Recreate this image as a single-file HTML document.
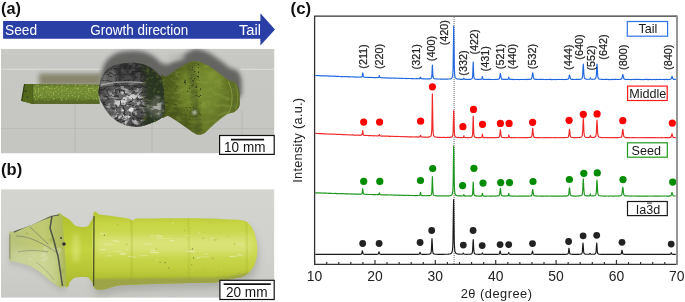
<!DOCTYPE html>
<html><head><meta charset="utf-8"><style>
html,body{margin:0;padding:0;background:#fff;}
body{width:685px;height:302px;overflow:hidden;}
svg{display:block;will-change:transform;}
svg text{font-family:"Liberation Sans",sans-serif;}
</style></head><body>
<svg width="685" height="302" viewBox="0 0 685 302">
<rect width="685" height="302" fill="#fff"/>
<defs>
<filter id="rodtex" x="0" y="0" width="1" height="1" color-interpolation-filters="sRGB"><feTurbulence type="fractalNoise" baseFrequency="0.6" numOctaves="2" seed="51"/><feColorMatrix type="matrix" values="0 0 0 0 0.72  0 0 0 0 0.8  0 0 0 0 0.42  5 0 0 0 -2.6"/></filter>
<radialGradient id="nkm" gradientUnits="userSpaceOnUse" cx="157" cy="107" r="13">
 <stop offset="0" stop-color="#fff"/><stop offset="0.6" stop-color="#999"/><stop offset="1" stop-color="#000"/></radialGradient>
<mask id="nkmask"><rect x="140" y="85" width="35" height="45" fill="url(#nkm)"/></mask>
<filter id="tex" x="0" y="0" width="1" height="1" color-interpolation-filters="sRGB"><feTurbulence type="fractalNoise" baseFrequency="0.12 0.25" numOctaves="3" seed="31"/><feColorMatrix type="matrix" values="0 0 0 0 0.62  0 0 0 0 0.68  0 0 0 0 0.3  3 0 0 0 -1.3"/></filter>
<filter id="spk" x="0" y="0" width="1" height="1" color-interpolation-filters="sRGB"><feTurbulence type="fractalNoise" baseFrequency="0.45" numOctaves="2" seed="41"/><feColorMatrix type="matrix" values="0 0 0 0 0.2  0 0 0 0 0.22  0 0 0 0 0.12  7 0 0 0 -4.4"/></filter>
<radialGradient id="bulbG" gradientUnits="userSpaceOnUse" cx="124" cy="102" r="34">
 <stop offset="0" stop-color="#707070"/><stop offset="0.55" stop-color="#505050"/><stop offset="1" stop-color="#323232"/></radialGradient>
<radialGradient id="hlm" gradientUnits="userSpaceOnUse" cx="128" cy="108" r="26">
 <stop offset="0" stop-color="#fff"/><stop offset="0.55" stop-color="#bbb"/><stop offset="1" stop-color="#333"/></radialGradient>
<mask id="hlmask"><rect x="90" y="55" width="85" height="80" fill="url(#hlm)"/></mask>
<filter id="hl" x="0" y="0" width="1" height="1" color-interpolation-filters="sRGB"><feTurbulence type="fractalNoise" baseFrequency="0.14 0.2" numOctaves="3" seed="5"/><feColorMatrix type="matrix" values="0 0 0 0 0.92  0 0 0 0 0.92  0 0 0 0 0.92  5 0 0 0 -2.3"/></filter>
<filter id="dk" x="0" y="0" width="1" height="1" color-interpolation-filters="sRGB"><feTurbulence type="turbulence" baseFrequency="0.12 0.16" numOctaves="2" seed="17"/><feColorMatrix type="matrix" values="0 0 0 0 0.12  0 0 0 0 0.12  0 0 0 0 0.12  -9 0 0 0 1.5"/></filter>
<filter id="moss" x="0" y="0" width="1" height="1" color-interpolation-filters="sRGB"><feTurbulence type="fractalNoise" baseFrequency="0.3" numOctaves="2" seed="12"/><feColorMatrix type="matrix" values="0 0 0 0 0.3  0 0 0 0 0.36  0 0 0 0 0.15  4 0 0 0 -2.2"/></filter>
<clipPath id="ca"><rect x="1" y="48.7" width="273.5" height="104.8"/></clipPath>
<clipPath id="cb"><rect x="1" y="189.2" width="273.4" height="108.6"/></clipPath>
<filter id="b05" x="-10%" y="-10%" width="120%" height="120%"><feGaussianBlur stdDeviation="0.6"/></filter>
<filter id="b1" x="-20%" y="-20%" width="140%" height="140%"><feGaussianBlur stdDeviation="1"/></filter>
<filter id="b2" x="-30%" y="-30%" width="160%" height="160%"><feGaussianBlur stdDeviation="2"/></filter>
<filter id="b3" x="-40%" y="-40%" width="180%" height="180%"><feGaussianBlur stdDeviation="3.5"/></filter>
<linearGradient id="bgA" x1="0" y1="0" x2="0" y2="1">
 <stop offset="0" stop-color="#cacbc7"/><stop offset="0.1" stop-color="#c7c8c4"/><stop offset="1" stop-color="#c5c6c2"/></linearGradient>
<linearGradient id="rodG" x1="0" y1="0" x2="0" y2="1">
 <stop offset="0" stop-color="#5a6e24"/><stop offset="0.2" stop-color="#768e34"/><stop offset="0.65" stop-color="#6e8630"/><stop offset="0.85" stop-color="#566c20"/><stop offset="1" stop-color="#46561a"/></linearGradient>
<linearGradient id="tailG" x1="0" y1="0" x2="1" y2="0">
 <stop offset="0" stop-color="#46541a"/><stop offset="0.3" stop-color="#5a6a22"/><stop offset="0.6" stop-color="#687a2a"/><stop offset="0.85" stop-color="#647628"/><stop offset="1" stop-color="#52621e"/></linearGradient>
<linearGradient id="bgB" x1="0" y1="0" x2="0" y2="1">
 <stop offset="0" stop-color="#d4d4d1"/><stop offset="0.6" stop-color="#d0d0cd"/><stop offset="1" stop-color="#c8c8c4"/></linearGradient>
<linearGradient id="bodyBG" gradientUnits="userSpaceOnUse" x1="0" y1="215" x2="0" y2="280">
 <stop offset="0" stop-color="#b8c834"/><stop offset="0.12" stop-color="#c6d444"/><stop offset="0.45" stop-color="#d0dc58"/><stop offset="0.8" stop-color="#c2d040"/><stop offset="1" stop-color="#aebc30"/></linearGradient>
<linearGradient id="neckBG" x1="0" y1="0" x2="0" y2="1">
 <stop offset="0" stop-color="#b0c02c"/><stop offset="0.5" stop-color="#c4d440"/><stop offset="1" stop-color="#a8b82a"/></linearGradient>
<linearGradient id="coneBG" x1="0" y1="0" x2="1" y2="0">
 <stop offset="0" stop-color="#b8c27a"/><stop offset="0.6" stop-color="#c0ca72"/><stop offset="1" stop-color="#aab656"/></linearGradient>
</defs><g clip-path="url(#ca)">
<rect x="1" y="48.7" width="273.5" height="104.8" fill="url(#bgA)"/>
<g stroke="#dcdcd8" stroke-width="1.1" opacity="0.9"><line x1="1" y1="69.4" x2="104" y2="69.4"/><line x1="240" y1="69.4" x2="274" y2="69.4"/></g><line x1="1" y1="128.6" x2="274" y2="128.6" stroke="#b4b4b0" stroke-width="0.8" opacity="0.7"/>
<g stroke="#a8a8a4" stroke-width="0.7" opacity="0.6"><line x1="75" y1="104" x2="75" y2="153"/><line x1="152" y1="122" x2="152" y2="153"/><line x1="242" y1="110" x2="242" y2="153"/></g>
<g filter="url(#b2)" fill="#4c4c48" opacity="0.8" transform="translate(2,-12)"><path d="M98.7,95.0 C97.8,91.2 98.7,89.0 99.2,86.0 C99.8,83.0 100.7,79.7 102.0,77.0 C103.3,74.3 105.0,71.9 107.0,70.0 C109.0,68.1 111.5,66.6 114.0,65.5 C116.5,64.4 119.0,64.0 122.0,63.6 C125.0,63.1 128.5,62.7 131.8,62.8 C135.1,62.9 138.8,63.1 142.0,64.0 C145.2,64.9 148.3,66.3 151.0,68.0 C153.7,69.7 156.2,72.0 158.0,74.0 C159.8,76.0 161.0,76.5 162.0,80.0 C163.0,83.5 163.6,89.7 164.0,95.0 C164.4,100.3 165.2,108.0 164.5,112.0 C163.8,116.0 162.4,117.1 160.0,119.0 C157.6,120.9 153.5,122.2 150.0,123.5 C146.5,124.8 142.9,126.5 139.1,126.8 C135.2,127.1 131.0,126.8 126.9,125.6 C122.8,124.4 118.3,122.3 114.6,119.5 C110.9,116.7 107.4,112.6 104.8,108.5 C102.2,104.4 99.6,98.8 98.7,95.0Z"/><path d="M160.0,78.0 C161.0,71.6 163.3,77.8 166.0,76.5 C168.7,75.2 172.7,72.1 176.0,70.0 C179.3,67.9 183.3,65.5 186.0,64.0 C188.7,62.5 190.0,61.6 192.0,61.2 C194.0,60.8 195.7,61.0 198.0,61.5 C200.3,62.0 203.3,63.2 206.0,64.5 C208.7,65.8 211.5,67.8 214.0,69.5 C216.5,71.2 218.7,72.8 221.0,74.5 C223.3,76.2 225.9,78.8 228.0,80.0 C230.1,81.2 231.9,81.0 233.4,81.8 C234.9,82.6 236.0,83.4 237.0,85.0 C238.0,86.6 238.9,89.0 239.3,91.3 C239.7,93.6 239.6,96.5 239.6,99.0 C239.6,101.5 240.1,104.2 239.3,106.3 C238.5,108.4 236.8,110.3 234.7,111.7 C232.6,113.1 229.4,112.9 226.6,114.4 C223.8,116.0 220.8,118.7 218.0,121.0 C215.2,123.3 212.2,126.0 210.0,128.0 C207.8,130.0 206.8,131.9 204.8,133.0 C202.8,134.1 200.3,135.1 198.0,134.8 C195.7,134.5 193.3,132.5 191.0,131.0 C188.7,129.5 186.5,127.8 184.0,126.0 C181.5,124.2 178.7,122.2 176.0,120.5 C173.3,118.8 170.7,116.9 168.0,116.0 C165.3,115.1 161.3,121.3 160.0,115.0 C158.7,108.7 159.0,84.4 160.0,78.0Z"/></g>
<g filter="url(#b2)" fill="#7e7a5e" opacity="0.85"><rect x="39" y="73.5" width="62" height="12"/></g>
<ellipse cx="176" cy="57" rx="9" ry="4" fill="#bcbdb9" opacity="0.8" filter="url(#b2)"/>
<g filter="url(#b05)">
<path d="M24.5,84.0 L99.0,84.6 L99.5,104.0 L33.0,104.0 L21.6,101.0Z" fill="url(#rodG)"/>
<clipPath id="crod"><path d="M24.5,84.0 L99.0,84.6 L99.5,104.0 L33.0,104.0 L21.6,101.0Z"/></clipPath><g clip-path="url(#crod)">
<rect x="20" y="83" width="82" height="22" filter="url(#rodtex)" opacity="0.5"/>
<path d="M30,100.6 L100,101 L100,105 L30,105Z" fill="#5c6a2c" opacity="0.85"/>
</g>
<path d="M24.5,84 L32.5,84.2 L33,104 L21.6,101Z" fill="#52681e"/>
<path d="M24.5,84 L21.6,101" stroke="#2e3a10" stroke-width="1.1"/>
<path d="M32.5,84.2 L33,104" stroke="#46581a" stroke-width="0.8"/>
<ellipse cx="25.5" cy="91" rx="0.8" ry="0.8" fill="#222"/><ellipse cx="27.5" cy="97" rx="0.7" ry="0.7" fill="#333"/>
</g>
<g filter="url(#b05)">
<path d="M160.0,78.0 C161.0,71.6 163.3,77.8 166.0,76.5 C168.7,75.2 172.7,72.1 176.0,70.0 C179.3,67.9 183.3,65.5 186.0,64.0 C188.7,62.5 190.0,61.6 192.0,61.2 C194.0,60.8 195.7,61.0 198.0,61.5 C200.3,62.0 203.3,63.2 206.0,64.5 C208.7,65.8 211.5,67.8 214.0,69.5 C216.5,71.2 218.7,72.8 221.0,74.5 C223.3,76.2 225.9,78.8 228.0,80.0 C230.1,81.2 231.9,81.0 233.4,81.8 C234.9,82.6 236.0,83.4 237.0,85.0 C238.0,86.6 238.9,89.0 239.3,91.3 C239.7,93.6 239.6,96.5 239.6,99.0 C239.6,101.5 240.1,104.2 239.3,106.3 C238.5,108.4 236.8,110.3 234.7,111.7 C232.6,113.1 229.4,112.9 226.6,114.4 C223.8,116.0 220.8,118.7 218.0,121.0 C215.2,123.3 212.2,126.0 210.0,128.0 C207.8,130.0 206.8,131.9 204.8,133.0 C202.8,134.1 200.3,135.1 198.0,134.8 C195.7,134.5 193.3,132.5 191.0,131.0 C188.7,129.5 186.5,127.8 184.0,126.0 C181.5,124.2 178.7,122.2 176.0,120.5 C173.3,118.8 170.7,116.9 168.0,116.0 C165.3,115.1 161.3,121.3 160.0,115.0 C158.7,108.7 159.0,84.4 160.0,78.0Z" fill="url(#tailG)"/>
<clipPath id="ctail"><path d="M160.0,78.0 C161.0,71.6 163.3,77.8 166.0,76.5 C168.7,75.2 172.7,72.1 176.0,70.0 C179.3,67.9 183.3,65.5 186.0,64.0 C188.7,62.5 190.0,61.6 192.0,61.2 C194.0,60.8 195.7,61.0 198.0,61.5 C200.3,62.0 203.3,63.2 206.0,64.5 C208.7,65.8 211.5,67.8 214.0,69.5 C216.5,71.2 218.7,72.8 221.0,74.5 C223.3,76.2 225.9,78.8 228.0,80.0 C230.1,81.2 231.9,81.0 233.4,81.8 C234.9,82.6 236.0,83.4 237.0,85.0 C238.0,86.6 238.9,89.0 239.3,91.3 C239.7,93.6 239.6,96.5 239.6,99.0 C239.6,101.5 240.1,104.2 239.3,106.3 C238.5,108.4 236.8,110.3 234.7,111.7 C232.6,113.1 229.4,112.9 226.6,114.4 C223.8,116.0 220.8,118.7 218.0,121.0 C215.2,123.3 212.2,126.0 210.0,128.0 C207.8,130.0 206.8,131.9 204.8,133.0 C202.8,134.1 200.3,135.1 198.0,134.8 C195.7,134.5 193.3,132.5 191.0,131.0 C188.7,129.5 186.5,127.8 184.0,126.0 C181.5,124.2 178.7,122.2 176.0,120.5 C173.3,118.8 170.7,116.9 168.0,116.0 C165.3,115.1 161.3,121.3 160.0,115.0 C158.7,108.7 159.0,84.4 160.0,78.0Z"/></clipPath>
<g clip-path="url(#ctail)">
<ellipse cx="200" cy="90" rx="22" ry="24" fill="#7a9030" opacity="0.7" filter="url(#b3)"/><ellipse cx="214" cy="76" rx="10" ry="8" fill="#7e9232" opacity="0.6" filter="url(#b3)"/>
<path d="M160,100 C175,110 190,118 206,136 L160,136Z" fill="#3e4a18" opacity="0.5" filter="url(#b3)"/>
<path d="M186,62 C190,80 191,105 196,134 L203,134 C198,105 196,80 196,61Z" fill="#4a5820" opacity="0.55" filter="url(#b1)"/>
<rect x="158" y="58" width="84" height="80" filter="url(#tex)" opacity="0.3"/>
<path d="M184,60 C188,80 190,105 193,120 L201,120 C197,105 197,80 198,58Z" filter="url(#spk)"/>
<path d="M158,60 L180,62 C176,90 178,100 180,110 L158,110Z" filter="url(#spk)" opacity="0.5"/>
<path d="M226,78 C232,90 232,106 226,118 L242,118 L242,78Z" fill="#5e702a" opacity="0.6" filter="url(#b1)"/>
<path d="M228,81 C233.5,92 233.5,104 228,114" stroke="#98aa44" stroke-width="1" fill="none" opacity="0.7"/>
<path d="M235.5,84 C238.5,92 238.5,103 235.5,110" stroke="#98aa44" stroke-width="0.8" fill="none" opacity="0.6"/>
<ellipse cx="194.5" cy="113" rx="4.5" ry="4" fill="#3a4418" opacity="0.6" filter="url(#b1)"/>
<ellipse cx="194.5" cy="112.5" rx="2.4" ry="2.2" fill="#b8bea8" filter="url(#b1)"/>
</g></g>
<g filter="url(#b05)">
<path d="M98.7,95.0 C97.8,91.2 98.7,89.0 99.2,86.0 C99.8,83.0 100.7,79.7 102.0,77.0 C103.3,74.3 105.0,71.9 107.0,70.0 C109.0,68.1 111.5,66.6 114.0,65.5 C116.5,64.4 119.0,64.0 122.0,63.6 C125.0,63.1 128.5,62.7 131.8,62.8 C135.1,62.9 138.8,63.1 142.0,64.0 C145.2,64.9 148.3,66.3 151.0,68.0 C153.7,69.7 156.2,72.0 158.0,74.0 C159.8,76.0 161.0,76.5 162.0,80.0 C163.0,83.5 163.6,89.7 164.0,95.0 C164.4,100.3 165.2,108.0 164.5,112.0 C163.8,116.0 162.4,117.1 160.0,119.0 C157.6,120.9 153.5,122.2 150.0,123.5 C146.5,124.8 142.9,126.5 139.1,126.8 C135.2,127.1 131.0,126.8 126.9,125.6 C122.8,124.4 118.3,122.3 114.6,119.5 C110.9,116.7 107.4,112.6 104.8,108.5 C102.2,104.4 99.6,98.8 98.7,95.0Z" fill="url(#bulbG)"/>
<clipPath id="cbulb"><path d="M98.7,95.0 C97.8,91.2 98.7,89.0 99.2,86.0 C99.8,83.0 100.7,79.7 102.0,77.0 C103.3,74.3 105.0,71.9 107.0,70.0 C109.0,68.1 111.5,66.6 114.0,65.5 C116.5,64.4 119.0,64.0 122.0,63.6 C125.0,63.1 128.5,62.7 131.8,62.8 C135.1,62.9 138.8,63.1 142.0,64.0 C145.2,64.9 148.3,66.3 151.0,68.0 C153.7,69.7 156.2,72.0 158.0,74.0 C159.8,76.0 161.0,76.5 162.0,80.0 C163.0,83.5 163.6,89.7 164.0,95.0 C164.4,100.3 165.2,108.0 164.5,112.0 C163.8,116.0 162.4,117.1 160.0,119.0 C157.6,120.9 153.5,122.2 150.0,123.5 C146.5,124.8 142.9,126.5 139.1,126.8 C135.2,127.1 131.0,126.8 126.9,125.6 C122.8,124.4 118.3,122.3 114.6,119.5 C110.9,116.7 107.4,112.6 104.8,108.5 C102.2,104.4 99.6,98.8 98.7,95.0Z"/></clipPath>
<g clip-path="url(#cbulb)">
<path d="M99,86 C102,78 106,72 112,68 C116,70 118,76 118,84 C112,86 105,87 99,88Z" fill="#8a8a88" opacity="0.85" filter="url(#b1)"/>
<rect x="96" y="60" width="72" height="70" filter="url(#hl)" mask="url(#hlmask)"/>
<rect x="96" y="60" width="72" height="70" filter="url(#dk)" opacity="0.7"/>
<path d="M104,66 C115,62 135,60 150,66 L150,84 C130,82 112,83 100,86Z" fill="#2a2a2a" opacity="0.35" filter="url(#b2)"/>
<path d="M101,85 C112,82 128,81 146,83" stroke="#c0c0c0" stroke-width="1.2" fill="none" opacity="0.7" filter="url(#b05)"/>
<path d="M100,87.5 C112,85.5 128,84.5 146,86.5" stroke="#2a2a2a" stroke-width="1" fill="none" opacity="0.7" filter="url(#b05)"/>
<path d="M141,62 C147,80 148,105 142,130 L170,130 L170,62Z" fill="#2c3420" opacity="0.95" filter="url(#b2)"/>
<path d="M143,62 C149,80 150,105 144,130 L170,130 L170,62Z" filter="url(#moss)"/>
<ellipse cx="156" cy="108" rx="7" ry="10" fill="#8a8a84" opacity="0.45" filter="url(#b2)"/>
<rect x="144" y="88" width="26" height="38" filter="url(#hl)" opacity="0.6" mask="url(#nkmask)"/>
</g></g>
</g>
<g clip-path="url(#cb)">
<rect x="1" y="189.2" width="273.4" height="108.6" fill="url(#bgB)"/>
<g filter="url(#b3)" fill="#a8a8a2" opacity="0.8" transform="translate(1,6)"><path d="M93.2,215.5 C94.0,207.1 97.5,214.7 100.0,214.8 C102.5,214.9 111.7,216.1 115.0,216.5 C118.3,216.9 125.9,218.0 128.0,218.5 C130.1,219.0 132.1,220.5 133.0,220.5 C133.9,220.5 134.5,218.8 136.0,218.6 C137.5,218.4 140.9,218.4 146.0,218.4 C151.1,218.4 172.5,218.2 180.0,218.2 C187.5,218.2 203.0,218.3 210.0,218.5 C217.0,218.7 235.4,219.6 239.6,219.9 C243.8,220.2 244.7,220.8 246.0,221.5 C247.3,222.2 250.0,224.7 251.0,226.0 C252.0,227.3 253.8,231.1 254.5,233.0 C255.2,234.9 256.5,240.0 256.8,242.0 C257.1,244.0 257.4,248.1 257.4,250.0 C257.4,251.9 257.0,256.1 256.6,258.0 C256.2,259.9 254.9,264.3 254.0,266.0 C253.1,267.7 250.3,271.3 249.0,272.5 C247.7,273.7 245.0,275.7 243.0,276.5 C241.0,277.3 235.3,278.3 232.0,279.0 C228.7,279.7 219.9,282.0 215.0,282.5 C210.1,283.0 197.6,282.8 190.0,283.0 C182.4,283.2 158.2,283.7 150.0,284.0 C141.8,284.3 126.6,285.0 120.0,285.3 C113.4,285.6 96.6,294.6 93.5,286.5 C90.4,278.4 92.4,223.9 93.2,215.5Z"/></g>
<g filter="url(#b2)" fill="#b0b0aa" opacity="0.6" transform="translate(0,4)"><path d="M9.3,233.0 C9.7,230.2 10.8,232.3 13.2,231.5 C15.6,230.7 29.4,226.0 33.0,224.5 C36.6,223.0 47.2,217.6 49.7,216.6 C52.2,215.6 56.8,214.7 58.0,214.6 C59.2,214.5 61.4,213.0 62.0,215.5 C62.6,218.0 63.6,234.6 64.0,240.0 C64.4,245.4 65.8,265.4 66.0,270.0 C66.2,274.6 66.6,283.8 66.0,285.5 C65.4,287.2 61.4,287.6 60.0,287.2 C58.6,286.8 54.0,283.5 52.0,282.0 C50.0,280.5 42.2,273.6 40.0,272.0 C37.8,270.4 32.7,267.1 30.0,266.0 C27.3,264.9 15.3,261.9 13.2,261.3 C11.1,260.7 9.7,262.4 9.3,259.6 C8.9,256.8 8.9,235.8 9.3,233.0Z"/></g>
<g filter="url(#b05)">
<path d="M58.0,216.0 C57.8,209.1 62.8,216.1 64.0,216.5 C65.2,216.9 68.9,219.1 70.0,220.0 C71.1,220.9 73.8,224.8 75.0,225.5 C76.2,226.2 80.7,226.9 82.0,227.0 C83.3,227.1 87.0,226.7 88.0,226.0 C89.0,225.3 91.2,220.9 92.0,220.0 C92.8,219.1 95.6,210.5 96.0,217.0 C96.4,223.5 96.4,278.5 96.0,285.0 C95.6,291.5 92.8,282.8 92.0,282.0 C91.2,281.2 89.2,278.0 88.0,277.5 C86.8,277.0 81.4,276.9 80.0,277.0 C78.6,277.1 75.0,277.5 74.0,278.0 C73.0,278.5 70.8,281.2 70.0,282.0 C69.2,282.8 67.2,292.1 66.0,285.5 C64.8,278.9 58.2,222.9 58.0,216.0Z" fill="url(#neckBG)"/>
<ellipse cx="76" cy="248" rx="3.5" ry="15" fill="#e0ea88" opacity="0.55" filter="url(#b2)"/>
<path d="M9.3,233.0 C9.7,230.2 10.8,232.3 13.2,231.5 C15.6,230.7 29.4,226.0 33.0,224.5 C36.6,223.0 47.2,217.6 49.7,216.6 C52.2,215.6 56.8,214.7 58.0,214.6 C59.2,214.5 61.4,213.0 62.0,215.5 C62.6,218.0 63.6,234.6 64.0,240.0 C64.4,245.4 65.8,265.4 66.0,270.0 C66.2,274.6 66.6,283.8 66.0,285.5 C65.4,287.2 61.4,287.6 60.0,287.2 C58.6,286.8 54.0,283.5 52.0,282.0 C50.0,280.5 42.2,273.6 40.0,272.0 C37.8,270.4 32.7,267.1 30.0,266.0 C27.3,264.9 15.3,261.9 13.2,261.3 C11.1,260.7 9.7,262.4 9.3,259.6 C8.9,256.8 8.9,235.8 9.3,233.0Z" fill="url(#coneBG)"/>
<clipPath id="ccone"><path d="M9.3,233.0 C9.7,230.2 10.8,232.3 13.2,231.5 C15.6,230.7 29.4,226.0 33.0,224.5 C36.6,223.0 47.2,217.6 49.7,216.6 C52.2,215.6 56.8,214.7 58.0,214.6 C59.2,214.5 61.4,213.0 62.0,215.5 C62.6,218.0 63.6,234.6 64.0,240.0 C64.4,245.4 65.8,265.4 66.0,270.0 C66.2,274.6 66.6,283.8 66.0,285.5 C65.4,287.2 61.4,287.6 60.0,287.2 C58.6,286.8 54.0,283.5 52.0,282.0 C50.0,280.5 42.2,273.6 40.0,272.0 C37.8,270.4 32.7,267.1 30.0,266.0 C27.3,264.9 15.3,261.9 13.2,261.3 C11.1,260.7 9.7,262.4 9.3,259.6 C8.9,256.8 8.9,235.8 9.3,233.0Z"/></clipPath>
<g clip-path="url(#ccone)">
<ellipse cx="34.4" cy="254.9" rx="3.8" ry="2.6" transform="rotate(1 34.4 254.9)" fill="#c4cc88" opacity="0.36"/><ellipse cx="53.4" cy="249.4" rx="3.0" ry="1.6" transform="rotate(-4 53.4 249.4)" fill="#d4dca8" opacity="0.33"/><ellipse cx="53.7" cy="263.8" rx="1.6" ry="1.6" transform="rotate(37 53.7 263.8)" fill="#c4cc88" opacity="0.52"/><ellipse cx="45.1" cy="259.1" rx="3.6" ry="1.6" transform="rotate(-37 45.1 259.1)" fill="#d4dca8" opacity="0.48"/><ellipse cx="52.0" cy="239.5" rx="3.0" ry="1.5" transform="rotate(-21 52.0 239.5)" fill="#9aa850" opacity="0.45"/><ellipse cx="45.8" cy="248.2" rx="2.2" ry="2.2" transform="rotate(40 45.8 248.2)" fill="#d4dca8" opacity="0.51"/><ellipse cx="27.0" cy="233.2" rx="2.2" ry="1.0" transform="rotate(21 27.0 233.2)" fill="#9aa850" opacity="0.33"/><ellipse cx="25.7" cy="222.4" rx="1.5" ry="1.3" transform="rotate(-23 25.7 222.4)" fill="#d4dca8" opacity="0.44"/><ellipse cx="62.9" cy="244.2" rx="1.7" ry="1.3" transform="rotate(22 62.9 244.2)" fill="#9aa850" opacity="0.40"/><ellipse cx="26.8" cy="219.0" rx="2.5" ry="2.4" transform="rotate(-29 26.8 219.0)" fill="#c4cc88" opacity="0.33"/><ellipse cx="13.2" cy="270.6" rx="1.9" ry="1.4" transform="rotate(-4 13.2 270.6)" fill="#d4dca8" opacity="0.60"/><ellipse cx="51.6" cy="245.7" rx="2.5" ry="1.6" transform="rotate(39 51.6 245.7)" fill="#d4dca8" opacity="0.38"/><ellipse cx="62.4" cy="271.0" rx="2.3" ry="2.1" transform="rotate(-23 62.4 271.0)" fill="#9aa850" opacity="0.60"/><ellipse cx="42.5" cy="256.1" rx="1.6" ry="0.8" transform="rotate(-5 42.5 256.1)" fill="#d4dca8" opacity="0.53"/><ellipse cx="27.8" cy="237.6" rx="1.7" ry="0.8" transform="rotate(7 27.8 237.6)" fill="#d4dca8" opacity="0.30"/><ellipse cx="29.9" cy="259.1" rx="1.8" ry="1.4" transform="rotate(27 29.9 259.1)" fill="#d4dca8" opacity="0.56"/><ellipse cx="19.9" cy="228.2" rx="3.8" ry="3.4" transform="rotate(-20 19.9 228.2)" fill="#d4dca8" opacity="0.35"/><ellipse cx="44.0" cy="254.6" rx="3.2" ry="2.0" transform="rotate(-1 44.0 254.6)" fill="#d4dca8" opacity="0.43"/><ellipse cx="15.6" cy="220.6" rx="3.9" ry="2.1" transform="rotate(16 15.6 220.6)" fill="#9aa850" opacity="0.43"/><ellipse cx="58.9" cy="250.4" rx="2.8" ry="2.7" transform="rotate(38 58.9 250.4)" fill="#d4dca8" opacity="0.37"/><ellipse cx="40.2" cy="274.3" rx="3.0" ry="1.7" transform="rotate(33 40.2 274.3)" fill="#d4dca8" opacity="0.52"/><ellipse cx="13.7" cy="245.2" rx="2.1" ry="0.9" transform="rotate(-17 13.7 245.2)" fill="#c4cc88" opacity="0.47"/>
<g fill="none" stroke="#70746a" stroke-width="0.8" opacity="0.8" filter="url(#b05)">
<path d="M16,236 C26,236 36,240 46,246 C50,248 53,250 56,252"/>
<path d="M30,227 C36,233 42,238 48,244"/>
<path d="M18,252 C28,250 38,250 48,252"/>
<path d="M36,262 C42,266 48,272 54,280"/>
</g>
<rect x="10" y="250" width="50" height="38" fill="#e4ead0" opacity="0.35" filter="url(#b3)"/>
<path d="M14,232 C28,226 42,219 52,216 C55,215 57,214.8 59,215" stroke="#5c6054" stroke-width="1.4" fill="none" filter="url(#b05)"/>
<path d="M52,216 L50,228 L54,241 L56,249 L58,256 L59.5,266 L61,276 L62.5,286" stroke="#4e5248" stroke-width="1.5" fill="none" stroke-linejoin="round" filter="url(#b05)"/>
<path d="M9.8,234 L9.8,259" stroke="#8c9070" stroke-width="1.1" fill="none"/>
</g>
<ellipse cx="64" cy="244" rx="1.8" ry="1.8" fill="#303030"/>
<ellipse cx="61" cy="238" rx="1" ry="1" fill="#404040"/>
<path d="M93.2,215.5 C94.0,207.1 97.5,214.7 100.0,214.8 C102.5,214.9 111.7,216.1 115.0,216.5 C118.3,216.9 125.9,218.0 128.0,218.5 C130.1,219.0 132.1,220.5 133.0,220.5 C133.9,220.5 134.5,218.8 136.0,218.6 C137.5,218.4 140.9,218.4 146.0,218.4 C151.1,218.4 172.5,218.2 180.0,218.2 C187.5,218.2 203.0,218.3 210.0,218.5 C217.0,218.7 235.4,219.6 239.6,219.9 C243.8,220.2 244.7,220.8 246.0,221.5 C247.3,222.2 250.0,224.7 251.0,226.0 C252.0,227.3 253.8,231.1 254.5,233.0 C255.2,234.9 256.5,240.0 256.8,242.0 C257.1,244.0 257.4,248.1 257.4,250.0 C257.4,251.9 257.0,256.1 256.6,258.0 C256.2,259.9 254.9,264.3 254.0,266.0 C253.1,267.7 250.3,271.3 249.0,272.5 C247.7,273.7 245.0,275.7 243.0,276.5 C241.0,277.3 235.3,278.3 232.0,279.0 C228.7,279.7 219.9,282.0 215.0,282.5 C210.1,283.0 197.6,282.8 190.0,283.0 C182.4,283.2 158.2,283.7 150.0,284.0 C141.8,284.3 126.6,285.0 120.0,285.3 C113.4,285.6 96.6,294.6 93.5,286.5 C90.4,278.4 92.4,223.9 93.2,215.5Z" fill="url(#bodyBG)"/>
<clipPath id="cbody"><path d="M93.2,215.5 C94.0,207.1 97.5,214.7 100.0,214.8 C102.5,214.9 111.7,216.1 115.0,216.5 C118.3,216.9 125.9,218.0 128.0,218.5 C130.1,219.0 132.1,220.5 133.0,220.5 C133.9,220.5 134.5,218.8 136.0,218.6 C137.5,218.4 140.9,218.4 146.0,218.4 C151.1,218.4 172.5,218.2 180.0,218.2 C187.5,218.2 203.0,218.3 210.0,218.5 C217.0,218.7 235.4,219.6 239.6,219.9 C243.8,220.2 244.7,220.8 246.0,221.5 C247.3,222.2 250.0,224.7 251.0,226.0 C252.0,227.3 253.8,231.1 254.5,233.0 C255.2,234.9 256.5,240.0 256.8,242.0 C257.1,244.0 257.4,248.1 257.4,250.0 C257.4,251.9 257.0,256.1 256.6,258.0 C256.2,259.9 254.9,264.3 254.0,266.0 C253.1,267.7 250.3,271.3 249.0,272.5 C247.7,273.7 245.0,275.7 243.0,276.5 C241.0,277.3 235.3,278.3 232.0,279.0 C228.7,279.7 219.9,282.0 215.0,282.5 C210.1,283.0 197.6,282.8 190.0,283.0 C182.4,283.2 158.2,283.7 150.0,284.0 C141.8,284.3 126.6,285.0 120.0,285.3 C113.4,285.6 96.6,294.6 93.5,286.5 C90.4,278.4 92.4,223.9 93.2,215.5Z"/></clipPath>
<g clip-path="url(#cbody)">
<path d="M90,279 C120,278.5 160,278 200,277.8 C220,277.8 236,276 246,273 L260,273 L260,292 L90,292Z" fill="#9ca446" filter="url(#b1)"/>
<rect x="96" y="236" width="156" height="18" fill="#e2ea94" opacity="0.5" filter="url(#b3)"/>
<path d="M131,217 C133,240 133,260 131,282" stroke="#9cae22" stroke-width="1.6" fill="none" opacity="0.5" filter="url(#b1)"/>
<path d="M188,217 C190,240 190,260 188,282" stroke="#9cae22" stroke-width="1.6" fill="none" opacity="0.35" filter="url(#b1)"/>
<path d="M246,217 C248,240 248,260 246,282" stroke="#9cae22" stroke-width="1.6" fill="none" opacity="0.4" filter="url(#b1)"/>
<path d="M187.2,251.3 l7.8,0.5" stroke="#eef2c8" stroke-width="1.1" opacity="0.67" stroke-linecap="round"/>
<path d="M104.1,244.1 l8.7,0.2" stroke="#eef2c8" stroke-width="1.2" opacity="0.39" stroke-linecap="round"/>
<path d="M165.7,238.4 l6.3,0.1" stroke="#eef2c8" stroke-width="0.6" opacity="0.43" stroke-linecap="round"/>
<path d="M139.1,255.8 l7.6,-0.4" stroke="#eef2c8" stroke-width="1.2" opacity="0.40" stroke-linecap="round"/>
<path d="M186.4,235.3 l3.0,0.4" stroke="#eef2c8" stroke-width="0.7" opacity="0.43" stroke-linecap="round"/>
<path d="M237.5,254.7 l4.7,0.6" stroke="#eef2c8" stroke-width="1.0" opacity="0.59" stroke-linecap="round"/>
<path d="M128.7,256.5 l7.1,0.6" stroke="#eef2c8" stroke-width="1.2" opacity="0.45" stroke-linecap="round"/>
<path d="M150.6,236.3 l3.9,-0.5" stroke="#eef2c8" stroke-width="0.8" opacity="0.56" stroke-linecap="round"/>
<path d="M100.5,249.6 l5.0,-0.2" stroke="#eef2c8" stroke-width="1.2" opacity="0.52" stroke-linecap="round"/>
<path d="M144.2,244.5 l7.2,-0.5" stroke="#eef2c8" stroke-width="1.3" opacity="0.36" stroke-linecap="round"/>
<path d="M205.0,254.0 l3.1,0.3" stroke="#eef2c8" stroke-width="0.9" opacity="0.55" stroke-linecap="round"/>
<path d="M101.3,233.2 l4.1,0.5" stroke="#eef2c8" stroke-width="0.7" opacity="0.61" stroke-linecap="round"/>
<path d="M230.2,256.5 l5.1,-0.2" stroke="#eef2c8" stroke-width="1.0" opacity="0.62" stroke-linecap="round"/>
<path d="M115.1,251.5 l7.8,0.4" stroke="#eef2c8" stroke-width="0.6" opacity="0.68" stroke-linecap="round"/>
<path d="M112.8,240.9 l6.7,0.5" stroke="#eef2c8" stroke-width="0.8" opacity="0.67" stroke-linecap="round"/>
<path d="M176.3,240.1 l4.9,-0.4" stroke="#eef2c8" stroke-width="0.7" opacity="0.40" stroke-linecap="round"/>
<path d="M196.5,257.9 l4.0,-0.5" stroke="#eef2c8" stroke-width="1.3" opacity="0.54" stroke-linecap="round"/>
<path d="M156.8,238.2 l6.6,0.4" stroke="#eef2c8" stroke-width="0.9" opacity="0.50" stroke-linecap="round"/>
<path d="M107.8,255.8 l3.2,-0.0" stroke="#eef2c8" stroke-width="1.2" opacity="0.40" stroke-linecap="round"/>
<path d="M202.4,256.7 l6.8,0.3" stroke="#eef2c8" stroke-width="0.7" opacity="0.50" stroke-linecap="round"/>
<path d="M120.9,254.0 l4.8,-0.1" stroke="#eef2c8" stroke-width="1.3" opacity="0.65" stroke-linecap="round"/>
<path d="M236.6,243.8 l5.9,0.3" stroke="#eef2c8" stroke-width="0.9" opacity="0.45" stroke-linecap="round"/>
<path d="M156.5,235.8 l5.3,0.6" stroke="#eef2c8" stroke-width="1.3" opacity="0.57" stroke-linecap="round"/>
<path d="M169.9,240.8 l3.5,-0.3" stroke="#eef2c8" stroke-width="1.1" opacity="0.65" stroke-linecap="round"/>
<path d="M150.6,252.4 l7.6,0.2" stroke="#eef2c8" stroke-width="1.1" opacity="0.62" stroke-linecap="round"/>
<path d="M150.9,250.3 l4.7,-0.0" stroke="#eef2c8" stroke-width="1.1" opacity="0.59" stroke-linecap="round"/>
<ellipse cx="116.1" cy="240.8" rx="1.1" ry="1.1" transform="rotate(13 116.1 240.8)" fill="#eef2c0" opacity="0.48"/><ellipse cx="242.8" cy="246.7" rx="0.8" ry="0.4" transform="rotate(-37 242.8 246.7)" fill="#eef2c0" opacity="0.44"/><ellipse cx="211.9" cy="238.6" rx="1.2" ry="0.5" transform="rotate(4 211.9 238.6)" fill="#eef2c0" opacity="0.57"/><ellipse cx="212.9" cy="258.6" rx="1.1" ry="1.0" transform="rotate(-12 212.9 258.6)" fill="#a8b030" opacity="0.57"/><ellipse cx="234.4" cy="243.7" rx="1.1" ry="1.0" transform="rotate(6 234.4 243.7)" fill="#a8b030" opacity="0.41"/><ellipse cx="97.0" cy="225.8" rx="0.6" ry="0.3" transform="rotate(-19 97.0 225.8)" fill="#a8b030" opacity="0.52"/><ellipse cx="157.1" cy="260.2" rx="0.9" ry="0.6" transform="rotate(27 157.1 260.2)" fill="#eef2c0" opacity="0.46"/><ellipse cx="177.3" cy="238.1" rx="0.6" ry="0.2" transform="rotate(37 177.3 238.1)" fill="#eef2c0" opacity="0.45"/><ellipse cx="193.3" cy="269.9" rx="0.7" ry="0.3" transform="rotate(-16 193.3 269.9)" fill="#eef2c0" opacity="0.46"/><ellipse cx="215.6" cy="239.8" rx="1.2" ry="0.8" transform="rotate(-21 215.6 239.8)" fill="#a8b030" opacity="0.50"/><ellipse cx="126.8" cy="244.4" rx="1.1" ry="1.0" transform="rotate(30 126.8 244.4)" fill="#a8b030" opacity="0.37"/><ellipse cx="242.3" cy="232.9" rx="0.6" ry="0.4" transform="rotate(32 242.3 232.9)" fill="#eef2c0" opacity="0.51"/><ellipse cx="247.0" cy="236.4" rx="0.6" ry="0.4" transform="rotate(-18 247.0 236.4)" fill="#eef2c0" opacity="0.55"/><ellipse cx="156.2" cy="249.0" rx="1.0" ry="0.8" transform="rotate(27 156.2 249.0)" fill="#a8b030" opacity="0.40"/><ellipse cx="227.6" cy="236.5" rx="0.9" ry="0.7" transform="rotate(-18 227.6 236.5)" fill="#a8b030" opacity="0.39"/><ellipse cx="221.6" cy="223.0" rx="0.6" ry="0.4" transform="rotate(-38 221.6 223.0)" fill="#a8b030" opacity="0.37"/><ellipse cx="117.5" cy="224.4" rx="0.9" ry="0.6" transform="rotate(10 117.5 224.4)" fill="#a8b030" opacity="0.59"/><ellipse cx="204.5" cy="232.4" rx="0.8" ry="0.4" transform="rotate(-39 204.5 232.4)" fill="#a8b030" opacity="0.46"/><ellipse cx="100.8" cy="233.8" rx="1.0" ry="0.8" transform="rotate(36 100.8 233.8)" fill="#eef2c0" opacity="0.42"/><ellipse cx="221.7" cy="269.1" rx="0.6" ry="0.5" transform="rotate(18 221.7 269.1)" fill="#eef2c0" opacity="0.44"/><ellipse cx="126.5" cy="268.1" rx="0.5" ry="0.4" transform="rotate(12 126.5 268.1)" fill="#a8b030" opacity="0.44"/><ellipse cx="199.2" cy="232.7" rx="1.0" ry="0.9" transform="rotate(11 199.2 232.7)" fill="#eef2c0" opacity="0.36"/><ellipse cx="239.0" cy="273.0" rx="1.2" ry="0.9" transform="rotate(23 239.0 273.0)" fill="#a8b030" opacity="0.38"/><ellipse cx="209.9" cy="222.8" rx="0.9" ry="0.4" transform="rotate(-13 209.9 222.8)" fill="#a8b030" opacity="0.53"/><ellipse cx="173.0" cy="223.5" rx="1.1" ry="0.5" transform="rotate(24 173.0 223.5)" fill="#eef2c0" opacity="0.46"/><ellipse cx="204.9" cy="269.6" rx="0.8" ry="0.8" transform="rotate(32 204.9 269.6)" fill="#a8b030" opacity="0.58"/><ellipse cx="173.8" cy="271.4" rx="0.6" ry="0.3" transform="rotate(2 173.8 271.4)" fill="#a8b030" opacity="0.55"/><ellipse cx="184.8" cy="230.5" rx="0.9" ry="0.8" transform="rotate(-19 184.8 230.5)" fill="#a8b030" opacity="0.59"/><ellipse cx="234.2" cy="253.7" rx="0.7" ry="0.3" transform="rotate(4 234.2 253.7)" fill="#a8b030" opacity="0.47"/><ellipse cx="127.2" cy="249.9" rx="0.9" ry="0.7" transform="rotate(-38 127.2 249.9)" fill="#eef2c0" opacity="0.45"/>
<ellipse cx="160.1" cy="262.1" rx="0.6" ry="0.4" transform="rotate(15 160.1 262.1)" fill="#505028" opacity="0.88"/><ellipse cx="168.8" cy="268.0" rx="0.6" ry="0.4" transform="rotate(-20 168.8 268.0)" fill="#505028" opacity="0.64"/><ellipse cx="165.1" cy="262.8" rx="0.7" ry="0.5" transform="rotate(-15 165.1 262.8)" fill="#505028" opacity="0.73"/><ellipse cx="104.4" cy="235.0" rx="0.6" ry="0.6" transform="rotate(-37 104.4 235.0)" fill="#505028" opacity="0.67"/><ellipse cx="203.1" cy="238.1" rx="0.5" ry="0.4" transform="rotate(-32 203.1 238.1)" fill="#505028" opacity="0.86"/><ellipse cx="193.5" cy="257.9" rx="0.6" ry="0.6" transform="rotate(-38 193.5 257.9)" fill="#505028" opacity="0.85"/><ellipse cx="192.4" cy="248.9" rx="0.7" ry="0.5" transform="rotate(-23 192.4 248.9)" fill="#505028" opacity="0.86"/><ellipse cx="191.8" cy="264.8" rx="0.5" ry="0.4" transform="rotate(25 191.8 264.8)" fill="#505028" opacity="0.69"/>
<path d="M94,216 L93.6,286" stroke="#4a5028" stroke-width="1.3"/>
</g>
</g>
</g>

<g font-family="Liberation Sans, sans-serif" font-size="13.9" fill="#111">
<rect x="219.6" y="135.5" width="54.6" height="18.9" fill="#fff" stroke="#111" stroke-width="1.2"/>
<line x1="230.9" y1="139.7" x2="264.1" y2="139.7" stroke="#111" stroke-width="1.7"/>
<text x="224.1" y="151.6" textLength="41.3" lengthAdjust="spacingAndGlyphs">10 mm</text>
<rect x="219.9" y="280.3" width="54.3" height="19.2" fill="#fff" stroke="#111" stroke-width="1.2"/>
<line x1="223.6" y1="284.1" x2="270.8" y2="284.1" stroke="#111" stroke-width="1.7"/>
<text x="225.9" y="297.3" textLength="41.6" lengthAdjust="spacingAndGlyphs">20 mm</text>
</g>


<g font-family="Liberation Sans, sans-serif">
<text x="1.0" y="13.9" font-size="16.8" font-weight="bold" fill="#111" textLength="19.9" lengthAdjust="spacingAndGlyphs">(a)</text>
<path d="M3.1,21.1 H260.4 V13.3 L275,29.6 L260.4,45.6 V38.8 H3.1 Z" fill="#2a3fa6"/>
<g fill="#fff" font-size="14">
<text x="5.05" y="34.7" textLength="32.1" lengthAdjust="spacingAndGlyphs">Seed</text>
<text x="90.3" y="34.7" textLength="98" lengthAdjust="spacingAndGlyphs">Growth direction</text>
<text x="239.0" y="34.7" textLength="22" lengthAdjust="spacingAndGlyphs">Tail</text>
</g>
<text x="1.0" y="175.0" font-size="16.8" font-weight="bold" fill="#111" textLength="21.2" lengthAdjust="spacingAndGlyphs">(b)</text>
</g>


<g font-family="Liberation Sans, sans-serif">
<text x="290.6" y="13.9" font-size="16.8" font-weight="bold" fill="#111" textLength="20.6" lengthAdjust="spacingAndGlyphs">(c)</text>
<line x1="454.1" y1="17" x2="454.1" y2="264" stroke="#6a6a6a" stroke-width="1" stroke-dasharray="1,1"/>
<g fill="none" stroke-width="1.15" stroke-linejoin="round">
<path d="M315.30,75.45 L315.80,75.54 L316.30,75.52 L316.80,75.60 L317.30,75.62 L317.80,75.51 L318.30,75.51 L318.80,75.73 L319.30,75.61 L319.80,75.63 L320.30,75.83 L320.80,75.72 L321.30,75.83 L321.80,75.76 L322.30,75.82 L322.80,75.72 L323.30,75.86 L323.80,75.93 L324.30,75.87 L324.80,75.94 L325.30,75.94 L325.80,75.82 L326.30,76.00 L326.80,75.98 L327.30,75.93 L327.80,75.89 L328.30,76.11 L328.80,76.03 L329.30,76.11 L329.80,76.17 L330.30,76.14 L330.80,76.21 L331.30,76.11 L331.80,76.22 L332.30,76.15 L332.80,76.29 L333.30,76.30 L333.80,76.13 L334.30,76.15 L334.80,76.19 L335.30,76.39 L335.80,76.28 L336.30,76.35 L336.80,76.29 L337.30,76.35 L337.80,76.34 L338.30,76.35 L338.80,76.43 L339.30,76.45 L339.80,76.54 L340.30,76.50 L340.80,76.58 L341.30,76.58 L341.80,76.63 L342.30,76.57 L342.80,76.47 L343.30,76.66 L343.80,76.70 L344.30,76.70 L344.80,76.64 L345.30,76.69 L345.80,76.59 L346.30,76.75 L346.80,76.71 L347.30,76.66 L347.80,76.62 L348.30,76.83 L348.80,76.88 L349.30,76.68 L349.80,76.87 L350.30,76.79 L350.80,76.75 L351.30,76.80 L351.80,76.93 L352.30,76.97 L352.80,76.79 L353.30,76.94 L353.80,76.82 L354.30,77.00 L354.80,76.92 L355.30,77.07 L355.80,77.11 L356.30,77.01 L356.80,77.14 L357.30,76.99 L357.80,76.95 L358.30,77.09 L358.80,76.97 L359.30,77.02 L359.80,77.07 L360.30,77.12 L360.80,77.00 L361.30,76.92 L361.80,76.96 L362.10,76.42 L362.30,75.61 L362.40,74.78 L362.70,72.77 L362.80,73.07 L363.00,74.71 L363.30,76.54 L363.80,77.06 L364.30,77.17 L364.80,77.25 L365.30,77.37 L365.80,77.29 L366.30,77.30 L366.80,77.39 L367.30,77.30 L367.80,77.33 L368.30,77.51 L368.80,77.42 L369.30,77.44 L369.80,77.33 L370.30,77.44 L370.80,77.50 L371.30,77.38 L371.80,77.54 L372.30,77.56 L372.80,77.43 L373.30,77.58 L373.80,77.56 L374.30,77.63 L374.80,77.56 L375.30,77.66 L375.80,77.68 L376.30,77.52 L376.80,77.54 L377.30,77.69 L377.80,77.75 L378.30,77.54 L378.80,77.35 L379.10,76.53 L379.30,75.69 L379.40,75.56 L379.70,76.48 L379.80,76.89 L380.00,77.42 L380.30,77.56 L380.80,77.68 L381.30,77.82 L381.80,77.67 L382.30,77.82 L382.80,77.88 L383.30,77.80 L383.80,77.79 L384.30,77.95 L384.80,77.83 L385.30,77.83 L385.80,77.91 L386.30,77.98 L386.80,77.86 L387.30,77.92 L387.80,77.94 L388.30,78.07 L388.80,77.99 L389.30,78.11 L389.80,77.96 L390.30,78.01 L390.80,78.10 L391.30,78.17 L391.80,78.08 L392.30,78.04 L392.80,78.03 L393.30,78.14 L393.80,78.07 L394.30,78.23 L394.80,78.25 L395.30,78.11 L395.80,78.14 L396.30,78.28 L396.80,78.26 L397.30,78.31 L397.80,78.21 L398.30,78.17 L398.80,78.23 L399.30,78.36 L399.80,78.25 L400.30,78.28 L400.80,78.31 L401.30,78.32 L401.80,78.33 L402.30,78.46 L402.80,78.29 L403.30,78.27 L403.80,78.51 L404.30,78.50 L404.80,78.54 L405.30,78.42 L405.80,78.56 L406.30,78.56 L406.80,78.41 L407.30,78.54 L407.80,78.58 L408.30,78.55 L408.80,78.52 L409.30,78.48 L409.80,78.50 L410.30,78.49 L410.80,78.46 L411.30,78.60 L411.80,78.54 L412.30,78.67 L412.80,78.50 L413.30,78.72 L413.80,78.68 L414.30,78.74 L414.80,78.75 L415.30,78.76 L415.80,78.69 L416.30,78.56 L416.80,78.75 L417.30,78.62 L417.80,78.65 L418.30,78.74 L418.80,78.71 L419.30,78.66 L419.80,78.68 L419.90,78.52 L420.20,77.82 L420.30,77.48 L420.50,77.27 L420.80,77.87 L421.10,78.59 L421.30,78.61 L421.80,78.66 L422.30,78.78 L422.80,78.87 L423.30,78.73 L423.80,78.89 L424.30,78.93 L424.80,78.92 L425.30,78.93 L425.80,78.74 L426.30,78.89 L426.80,78.96 L427.30,78.76 L427.80,78.82 L428.30,78.81 L428.80,78.87 L429.30,78.82 L429.80,78.80 L430.30,78.81 L430.80,78.48 L431.30,78.15 L431.80,76.55 L432.10,70.90 L432.30,65.77 L432.40,65.10 L432.70,71.09 L432.80,73.48 L433.00,76.67 L433.30,77.95 L433.80,78.50 L434.30,78.72 L434.80,78.90 L435.30,78.95 L435.80,78.94 L436.30,78.92 L436.80,78.98 L437.30,78.95 L437.80,79.07 L438.30,79.12 L438.80,79.05 L439.30,78.99 L439.80,79.02 L440.30,79.08 L440.80,79.14 L441.30,79.19 L441.80,79.10 L442.30,79.20 L442.80,79.17 L443.30,79.13 L443.80,79.11 L444.30,79.15 L444.80,79.20 L445.30,79.13 L445.80,79.19 L446.30,79.13 L446.80,79.08 L447.30,79.14 L447.80,79.16 L448.30,78.99 L448.80,79.05 L449.30,79.00 L449.80,79.05 L450.30,78.97 L450.80,78.69 L451.30,78.57 L451.80,78.10 L452.30,77.05 L452.80,74.61 L453.10,67.85 L453.30,55.07 L453.40,45.66 L453.70,26.08 L453.80,28.82 L454.00,45.67 L454.30,68.01 L454.80,76.05 L455.30,77.51 L455.80,78.31 L456.30,78.53 L456.80,78.77 L457.30,79.06 L457.80,78.97 L458.30,79.05 L458.80,79.10 L459.30,79.32 L459.80,79.18 L460.30,79.17 L460.80,79.38 L461.30,79.22 L461.80,79.40 L462.30,79.36 L462.80,79.38 L463.30,79.28 L463.60,78.74 L463.80,78.38 L463.90,78.12 L464.20,78.79 L464.30,78.94 L464.50,79.24 L464.80,79.21 L465.30,79.41 L465.80,79.48 L466.30,79.28 L466.80,79.35 L467.30,79.41 L467.80,79.47 L468.30,79.33 L468.80,79.30 L469.30,79.31 L469.80,79.37 L470.30,79.37 L470.80,79.22 L471.30,79.09 L471.80,78.84 L472.30,78.15 L472.60,76.50 L472.80,72.55 L472.90,69.43 L473.20,61.99 L473.30,62.97 L473.50,69.49 L473.80,76.45 L474.30,78.61 L474.80,79.07 L475.30,79.23 L475.80,79.29 L476.30,79.34 L476.80,79.41 L477.30,79.49 L477.80,79.33 L478.30,79.33 L478.80,79.49 L479.30,79.53 L479.80,79.43 L480.30,79.40 L480.80,79.44 L481.30,79.24 L481.80,78.93 L482.10,77.74 L482.30,76.78 L482.40,76.53 L482.70,77.75 L482.80,78.39 L483.00,79.10 L483.30,79.21 L483.80,79.43 L484.30,79.40 L484.80,79.53 L485.30,79.47 L485.80,79.40 L486.30,79.40 L486.80,79.35 L487.30,79.47 L487.80,79.44 L488.30,79.39 L488.80,79.44 L489.30,79.43 L489.80,79.54 L490.30,79.39 L490.80,79.59 L491.30,79.47 L491.80,79.49 L492.30,79.46 L492.80,79.55 L493.30,79.54 L493.80,79.47 L494.30,79.45 L494.80,79.50 L495.30,79.53 L495.80,79.41 L496.30,79.47 L496.80,79.51 L497.30,79.36 L497.80,79.26 L498.30,79.18 L498.80,79.16 L499.30,78.74 L499.80,76.91 L500.10,74.79 L500.30,73.67 L500.40,73.52 L500.70,74.65 L500.80,75.32 L501.00,76.85 L501.30,78.32 L501.80,79.10 L502.30,79.14 L502.80,79.38 L503.30,79.31 L503.80,79.37 L504.30,79.46 L504.80,79.32 L505.30,79.33 L505.80,79.51 L506.30,79.38 L506.80,79.39 L507.30,79.42 L507.80,79.37 L508.20,78.97 L508.30,78.85 L508.50,78.15 L508.80,77.17 L509.10,78.09 L509.30,78.92 L509.40,79.20 L509.80,79.31 L510.30,79.42 L510.80,79.35 L511.30,79.40 L511.80,79.50 L512.30,79.38 L512.80,79.57 L513.30,79.57 L513.80,79.38 L514.30,79.59 L514.80,79.45 L515.30,79.55 L515.80,79.54 L516.30,79.43 L516.80,79.53 L517.30,79.52 L517.80,79.56 L518.30,79.43 L518.80,79.54 L519.30,79.59 L519.80,79.52 L520.30,79.49 L520.80,79.39 L521.30,79.48 L521.80,79.45 L522.30,79.53 L522.80,79.52 L523.30,79.49 L523.80,79.40 L524.30,79.51 L524.80,79.50 L525.30,79.39 L525.80,79.56 L526.30,79.50 L526.80,79.36 L527.30,79.55 L527.80,79.35 L528.30,79.38 L528.80,79.46 L529.30,79.40 L529.80,79.35 L530.30,79.31 L530.80,79.16 L531.30,78.90 L531.80,77.99 L532.10,76.33 L532.30,74.90 L532.40,74.12 L532.70,72.81 L532.80,73.01 L533.00,74.03 L533.30,76.38 L533.80,78.56 L534.30,79.15 L534.80,79.11 L535.30,79.31 L535.80,79.30 L536.30,79.46 L536.80,79.38 L537.30,79.39 L537.80,79.42 L538.30,79.46 L538.80,79.52 L539.30,79.43 L539.80,79.55 L540.30,79.38 L540.80,79.42 L541.30,79.38 L541.80,79.38 L542.30,79.55 L542.80,79.54 L543.30,79.41 L543.80,79.41 L544.30,79.46 L544.80,79.54 L545.30,79.56 L545.80,79.55 L546.30,79.51 L546.80,79.40 L547.30,79.46 L547.80,79.41 L548.30,79.49 L548.80,79.50 L549.30,79.42 L549.80,79.43 L550.30,79.56 L550.80,79.38 L551.30,79.56 L551.80,79.58 L552.30,79.60 L552.80,79.46 L553.30,79.50 L553.80,79.51 L554.30,79.52 L554.80,79.60 L555.30,79.53 L555.80,79.44 L556.30,79.57 L556.80,79.48 L557.30,79.51 L557.80,79.54 L558.30,79.36 L558.80,79.55 L559.30,79.52 L559.80,79.48 L560.30,79.49 L560.80,79.47 L561.30,79.40 L561.80,79.48 L562.30,79.36 L562.80,79.47 L563.30,79.50 L563.80,79.45 L564.30,79.47 L564.80,79.56 L565.30,79.53 L565.80,79.33 L566.30,79.47 L566.80,79.40 L567.30,79.21 L567.80,79.19 L568.30,78.92 L568.80,77.78 L568.90,77.44 L569.20,75.94 L569.30,75.34 L569.50,75.07 L569.80,75.88 L570.10,77.34 L570.30,78.33 L570.80,79.08 L571.30,79.34 L571.80,79.37 L572.30,79.42 L572.80,79.35 L573.30,79.48 L573.80,79.52 L574.30,79.51 L574.80,79.41 L575.30,79.49 L575.80,79.43 L576.30,79.33 L576.80,79.31 L577.30,79.31 L577.80,79.33 L578.30,79.31 L578.80,79.37 L579.30,79.39 L579.80,79.31 L580.30,79.22 L580.80,79.18 L581.30,78.93 L581.80,78.64 L582.30,77.82 L582.70,74.24 L582.80,72.38 L583.00,68.15 L583.30,64.13 L583.60,68.02 L583.80,72.42 L583.90,74.27 L584.30,77.78 L584.80,78.58 L585.30,78.85 L585.80,79.07 L586.30,79.30 L586.80,79.20 L587.30,79.31 L587.80,79.27 L588.30,79.28 L588.80,79.27 L589.30,79.29 L589.80,79.07 L590.10,78.43 L590.30,77.90 L590.40,77.82 L590.70,78.54 L590.80,78.71 L591.00,79.03 L591.30,79.27 L591.80,79.31 L592.30,79.39 L592.80,79.22 L593.30,79.28 L593.80,79.23 L594.30,79.07 L594.80,79.16 L595.30,78.74 L595.80,78.17 L596.30,75.64 L596.40,74.18 L596.70,68.09 L596.80,65.99 L597.00,63.99 L597.30,67.95 L597.60,74.32 L597.80,76.59 L598.30,78.50 L598.80,78.87 L599.30,79.20 L599.80,79.17 L600.30,79.23 L600.80,79.28 L601.30,79.44 L601.80,79.42 L602.30,79.37 L602.80,79.32 L603.30,79.48 L603.80,79.55 L604.30,79.47 L604.80,79.33 L605.30,79.34 L605.80,79.36 L606.30,79.38 L606.80,79.35 L607.30,79.36 L607.80,79.51 L608.30,79.57 L608.80,79.40 L609.30,79.59 L609.80,79.47 L610.30,79.55 L610.80,79.58 L611.30,79.58 L611.80,79.36 L612.30,79.43 L612.80,79.50 L613.30,79.58 L613.80,79.37 L614.30,79.42 L614.80,79.55 L615.30,79.38 L615.80,79.44 L616.30,79.42 L616.80,79.50 L617.30,79.55 L617.80,79.37 L618.30,79.49 L618.80,79.48 L619.30,79.48 L619.80,79.38 L620.30,79.42 L620.80,79.21 L621.30,79.06 L621.80,78.44 L622.20,77.07 L622.30,76.46 L622.50,75.34 L622.80,74.51 L623.10,75.45 L623.30,76.49 L623.40,77.06 L623.80,78.48 L624.30,79.08 L624.80,79.16 L625.30,79.37 L625.80,79.26 L626.30,79.39 L626.80,79.48 L627.30,79.48 L627.80,79.35 L628.30,79.39 L628.80,79.54 L629.30,79.50 L629.80,79.56 L630.30,79.56 L630.80,79.46 L631.30,79.57 L631.80,79.54 L632.30,79.44 L632.80,79.45 L633.30,79.38 L633.80,79.46 L634.30,79.60 L634.80,79.39 L635.30,79.51 L635.80,79.40 L636.30,79.39 L636.80,79.53 L637.30,79.43 L637.80,79.38 L638.30,79.41 L638.80,79.53 L639.30,79.51 L639.80,79.38 L640.30,79.43 L640.80,79.61 L641.30,79.43 L641.80,79.51 L642.30,79.47 L642.80,79.56 L643.30,79.52 L643.80,79.56 L644.30,79.50 L644.80,79.42 L645.30,79.42 L645.80,79.39 L646.30,79.57 L646.80,79.40 L647.30,79.38 L647.80,79.61 L648.30,79.42 L648.80,79.59 L649.30,79.40 L649.80,79.49 L650.30,79.43 L650.80,79.57 L651.30,79.52 L651.80,79.53 L652.30,79.56 L652.80,79.58 L653.30,79.46 L653.80,79.52 L654.30,79.48 L654.80,79.40 L655.30,79.57 L655.80,79.52 L656.30,79.57 L656.80,79.42 L657.30,79.50 L657.80,79.49 L658.30,79.55 L658.80,79.39 L659.30,79.46 L659.80,79.49 L660.30,79.39 L660.80,79.50 L661.30,79.55 L661.80,79.47 L662.30,79.53 L662.80,79.51 L663.30,79.42 L663.80,79.45 L664.30,79.60 L664.80,79.44 L665.30,79.46 L665.80,79.38 L666.30,79.41 L666.80,79.39 L667.30,79.57 L667.80,79.51 L668.30,79.54 L668.80,79.55 L669.30,79.43 L669.80,79.47 L670.30,79.30 L670.80,79.07 L671.30,78.34 L671.40,78.02 L671.70,77.01 L671.80,76.63 L672.00,76.46 L672.30,76.88 L672.60,78.04 L672.80,78.60 L673.30,79.10 L673.80,79.41 L674.30,79.30 L674.80,79.31 L675.30,79.49 L675.80,79.40" stroke="#2068e0"/>
<path d="M315.30,133.42 L315.80,133.47 L316.30,133.35 L316.80,133.54 L317.30,133.45 L317.80,133.51 L318.30,133.51 L318.80,133.63 L319.30,133.65 L319.80,133.57 L320.30,133.54 L320.80,133.61 L321.30,133.66 L321.80,133.61 L322.30,133.65 L322.80,133.81 L323.30,133.82 L323.80,133.91 L324.30,133.93 L324.80,133.93 L325.30,133.83 L325.80,133.80 L326.30,133.86 L326.80,133.92 L327.30,133.96 L327.80,133.98 L328.30,133.96 L328.80,134.10 L329.30,133.98 L329.80,134.05 L330.30,134.17 L330.80,134.17 L331.30,134.07 L331.80,134.08 L332.30,134.24 L332.80,134.07 L333.30,134.12 L333.80,134.24 L334.30,134.26 L334.80,134.19 L335.30,134.18 L335.80,134.24 L336.30,134.40 L336.80,134.35 L337.30,134.49 L337.80,134.46 L338.30,134.53 L338.80,134.33 L339.30,134.38 L339.80,134.36 L340.30,134.48 L340.80,134.48 L341.30,134.43 L341.80,134.57 L342.30,134.48 L342.80,134.56 L343.30,134.56 L343.80,134.71 L344.30,134.64 L344.80,134.62 L345.30,134.59 L345.80,134.70 L346.30,134.77 L346.80,134.80 L347.30,134.88 L347.80,134.87 L348.30,134.76 L348.80,134.75 L349.30,134.92 L349.80,134.95 L350.30,134.90 L350.80,135.00 L351.30,134.95 L351.80,134.90 L352.30,134.89 L352.80,134.88 L353.30,135.05 L353.80,135.13 L354.30,135.15 L354.80,135.06 L355.30,135.13 L355.80,135.21 L356.30,135.20 L356.80,135.16 L357.30,135.13 L357.80,135.18 L358.30,135.11 L358.80,135.12 L359.30,135.26 L359.80,135.34 L360.30,135.23 L360.80,135.18 L361.30,135.12 L361.80,134.98 L362.10,134.64 L362.30,133.53 L362.40,132.80 L362.70,130.62 L362.80,130.95 L363.00,132.72 L363.30,134.59 L363.80,135.25 L364.30,135.38 L364.80,135.47 L365.30,135.44 L365.80,135.33 L366.30,135.49 L366.80,135.51 L367.30,135.51 L367.80,135.48 L368.30,135.61 L368.80,135.67 L369.30,135.50 L369.80,135.65 L370.30,135.60 L370.80,135.65 L371.30,135.76 L371.80,135.79 L372.30,135.74 L372.80,135.65 L373.30,135.84 L373.80,135.68 L374.30,135.74 L374.80,135.86 L375.30,135.76 L375.80,135.76 L376.30,135.94 L376.80,135.95 L377.30,135.81 L377.80,135.83 L378.30,135.79 L378.80,135.61 L379.10,135.10 L379.30,134.79 L379.40,134.50 L379.70,135.12 L379.80,135.36 L380.00,135.64 L380.30,135.88 L380.80,136.00 L381.30,136.06 L381.80,136.04 L382.30,136.10 L382.80,135.93 L383.30,136.01 L383.80,136.19 L384.30,135.99 L384.80,136.06 L385.30,136.13 L385.80,136.09 L386.30,136.17 L386.80,136.07 L387.30,136.13 L387.80,136.32 L388.30,136.14 L388.80,136.34 L389.30,136.18 L389.80,136.39 L390.30,136.33 L390.80,136.34 L391.30,136.23 L391.80,136.22 L392.30,136.41 L392.80,136.28 L393.30,136.30 L393.80,136.47 L394.30,136.49 L394.80,136.31 L395.30,136.54 L395.80,136.46 L396.30,136.43 L396.80,136.38 L397.30,136.46 L397.80,136.62 L398.30,136.47 L398.80,136.44 L399.30,136.46 L399.80,136.47 L400.30,136.54 L400.80,136.69 L401.30,136.50 L401.80,136.54 L402.30,136.73 L402.80,136.76 L403.30,136.77 L403.80,136.61 L404.30,136.65 L404.80,136.80 L405.30,136.70 L405.80,136.77 L406.30,136.69 L406.80,136.63 L407.30,136.72 L407.80,136.83 L408.30,136.85 L408.80,136.81 L409.30,136.80 L409.80,136.83 L410.30,136.82 L410.80,136.85 L411.30,136.94 L411.80,136.80 L412.30,136.90 L412.80,137.00 L413.30,136.99 L413.80,136.84 L414.30,137.04 L414.80,137.02 L415.30,136.87 L415.80,136.90 L416.30,136.89 L416.80,136.87 L417.30,137.10 L417.80,136.97 L418.30,137.08 L418.80,136.89 L419.30,136.84 L419.80,136.92 L419.90,136.82 L420.20,136.15 L420.30,135.72 L420.50,135.28 L420.80,136.11 L421.10,136.67 L421.30,136.92 L421.80,137.00 L422.30,136.96 L422.80,137.09 L423.30,137.04 L423.80,137.10 L424.30,137.07 L424.80,137.06 L425.30,137.08 L425.80,137.14 L426.30,137.23 L426.80,137.21 L427.30,137.18 L427.80,137.16 L428.30,136.99 L428.80,137.11 L429.30,136.87 L429.80,136.71 L430.30,136.57 L430.80,136.17 L431.30,135.00 L431.80,130.06 L432.10,112.46 L432.30,96.75 L432.40,93.88 L432.70,112.52 L432.80,120.49 L433.00,130.14 L433.30,134.28 L433.80,135.85 L434.30,136.48 L434.80,136.84 L435.30,136.88 L435.80,137.08 L436.30,137.25 L436.80,137.29 L437.30,137.16 L437.80,137.38 L438.30,137.29 L438.80,137.46 L439.30,137.33 L439.80,137.31 L440.30,137.40 L440.80,137.49 L441.30,137.40 L441.80,137.51 L442.30,137.48 L442.80,137.41 L443.30,137.40 L443.80,137.46 L444.30,137.44 L444.80,137.44 L445.30,137.51 L445.80,137.57 L446.30,137.50 L446.80,137.39 L447.30,137.41 L447.80,137.44 L448.30,137.50 L448.80,137.37 L449.30,137.34 L449.80,137.37 L450.30,137.31 L450.80,137.18 L451.30,137.18 L451.80,137.05 L452.30,136.50 L452.80,135.29 L453.10,131.94 L453.30,125.41 L453.40,120.69 L453.70,110.67 L453.80,112.12 L454.00,120.51 L454.30,131.97 L454.80,135.92 L455.30,136.74 L455.80,137.19 L456.30,137.23 L456.80,137.31 L457.30,137.53 L457.80,137.52 L458.30,137.43 L458.80,137.44 L459.30,137.54 L459.80,137.47 L460.30,137.68 L460.80,137.53 L461.30,137.55 L461.80,137.58 L462.30,137.60 L462.80,137.54 L463.30,137.39 L463.60,136.72 L463.80,136.04 L463.90,135.85 L464.20,136.79 L464.30,137.04 L464.50,137.27 L464.80,137.51 L465.30,137.65 L465.80,137.73 L466.30,137.52 L466.80,137.51 L467.30,137.62 L467.80,137.60 L468.30,137.70 L468.80,137.67 L469.30,137.53 L469.80,137.52 L470.30,137.51 L470.80,137.50 L471.30,137.19 L471.80,136.91 L472.30,136.01 L472.60,134.10 L472.80,129.20 L472.90,125.45 L473.20,116.09 L473.30,117.47 L473.50,125.25 L473.80,134.00 L474.30,136.55 L474.80,137.18 L475.30,137.34 L475.80,137.40 L476.30,137.63 L476.80,137.60 L477.30,137.59 L477.80,137.53 L478.30,137.56 L478.80,137.71 L479.30,137.53 L479.80,137.62 L480.30,137.63 L480.80,137.53 L481.30,137.55 L481.80,137.20 L482.10,135.81 L482.30,134.54 L482.40,134.20 L482.70,135.62 L482.80,136.34 L483.00,137.06 L483.30,137.35 L483.80,137.65 L484.30,137.54 L484.80,137.71 L485.30,137.75 L485.80,137.57 L486.30,137.76 L486.80,137.64 L487.30,137.60 L487.80,137.60 L488.30,137.56 L488.80,137.67 L489.30,137.65 L489.80,137.76 L490.30,137.75 L490.80,137.57 L491.30,137.65 L491.80,137.64 L492.30,137.59 L492.80,137.61 L493.30,137.61 L493.80,137.71 L494.30,137.62 L494.80,137.56 L495.30,137.58 L495.80,137.62 L496.30,137.64 L496.80,137.54 L497.30,137.62 L497.80,137.46 L498.30,137.49 L498.80,137.33 L499.30,136.88 L499.80,135.04 L500.10,131.73 L500.30,129.97 L500.40,129.71 L500.70,131.79 L500.80,132.91 L501.00,134.87 L501.30,136.63 L501.80,137.29 L502.30,137.40 L502.80,137.52 L503.30,137.50 L503.80,137.68 L504.30,137.65 L504.80,137.55 L505.30,137.70 L505.80,137.75 L506.30,137.59 L506.80,137.74 L507.30,137.58 L507.80,137.43 L508.20,137.27 L508.30,136.95 L508.50,136.19 L508.80,135.00 L509.10,136.04 L509.30,137.00 L509.40,137.31 L509.80,137.51 L510.30,137.61 L510.80,137.72 L511.30,137.64 L511.80,137.66 L512.30,137.69 L512.80,137.75 L513.30,137.60 L513.80,137.58 L514.30,137.74 L514.80,137.69 L515.30,137.63 L515.80,137.78 L516.30,137.77 L516.80,137.69 L517.30,137.80 L517.80,137.76 L518.30,137.74 L518.80,137.63 L519.30,137.57 L519.80,137.73 L520.30,137.74 L520.80,137.65 L521.30,137.68 L521.80,137.70 L522.30,137.62 L522.80,137.73 L523.30,137.69 L523.80,137.65 L524.30,137.58 L524.80,137.68 L525.30,137.63 L525.80,137.72 L526.30,137.58 L526.80,137.63 L527.30,137.57 L527.80,137.62 L528.30,137.64 L528.80,137.51 L529.30,137.47 L529.80,137.54 L530.30,137.40 L530.80,137.36 L531.30,137.05 L531.80,136.29 L532.10,134.55 L532.30,132.26 L532.40,130.88 L532.70,128.40 L532.80,128.68 L533.00,130.69 L533.30,134.49 L533.80,136.79 L534.30,137.35 L534.80,137.32 L535.30,137.61 L535.80,137.55 L536.30,137.58 L536.80,137.56 L537.30,137.74 L537.80,137.57 L538.30,137.67 L538.80,137.66 L539.30,137.59 L539.80,137.60 L540.30,137.79 L540.80,137.74 L541.30,137.73 L541.80,137.77 L542.30,137.58 L542.80,137.73 L543.30,137.74 L543.80,137.62 L544.30,137.67 L544.80,137.80 L545.30,137.64 L545.80,137.75 L546.30,137.60 L546.80,137.73 L547.30,137.63 L547.80,137.69 L548.30,137.66 L548.80,137.78 L549.30,137.75 L549.80,137.69 L550.30,137.73 L550.80,137.67 L551.30,137.76 L551.80,137.63 L552.30,137.70 L552.80,137.71 L553.30,137.66 L553.80,137.58 L554.30,137.61 L554.80,137.72 L555.30,137.61 L555.80,137.75 L556.30,137.68 L556.80,137.79 L557.30,137.77 L557.80,137.74 L558.30,137.65 L558.80,137.57 L559.30,137.69 L559.80,137.74 L560.30,137.78 L560.80,137.60 L561.30,137.59 L561.80,137.78 L562.30,137.72 L562.80,137.66 L563.30,137.71 L563.80,137.56 L564.30,137.65 L564.80,137.67 L565.30,137.64 L565.80,137.52 L566.30,137.48 L566.80,137.55 L567.30,137.54 L567.80,137.23 L568.30,136.90 L568.80,135.47 L568.90,134.87 L569.20,131.35 L569.30,130.24 L569.50,129.30 L569.80,131.40 L570.10,134.74 L570.30,136.16 L570.80,136.98 L571.30,137.29 L571.80,137.50 L572.30,137.44 L572.80,137.45 L573.30,137.59 L573.80,137.55 L574.30,137.72 L574.80,137.51 L575.30,137.68 L575.80,137.58 L576.30,137.68 L576.80,137.59 L577.30,137.63 L577.80,137.54 L578.30,137.50 L578.80,137.53 L579.30,137.58 L579.80,137.42 L580.30,137.32 L580.80,137.24 L581.30,136.95 L581.80,136.61 L582.30,135.56 L582.70,131.21 L582.80,128.99 L583.00,123.46 L583.30,118.46 L583.60,123.39 L583.80,128.92 L583.90,131.13 L584.30,135.56 L584.80,136.59 L585.30,137.10 L585.80,137.27 L586.30,137.40 L586.80,137.49 L587.30,137.48 L587.80,137.49 L588.30,137.47 L588.80,137.40 L589.30,137.53 L589.80,137.21 L590.10,136.23 L590.30,135.62 L590.40,135.40 L590.70,136.35 L590.80,136.71 L591.00,137.12 L591.30,137.53 L591.80,137.41 L592.30,137.47 L592.80,137.61 L593.30,137.37 L593.80,137.41 L594.30,137.32 L594.80,137.12 L595.30,137.00 L595.80,136.26 L596.30,133.16 L596.40,131.67 L596.70,124.43 L596.80,122.26 L597.00,120.06 L597.30,124.64 L597.60,131.57 L597.80,134.46 L598.30,136.42 L598.80,136.98 L599.30,137.18 L599.80,137.32 L600.30,137.37 L600.80,137.54 L601.30,137.45 L601.80,137.69 L602.30,137.48 L602.80,137.72 L603.30,137.55 L603.80,137.53 L604.30,137.70 L604.80,137.65 L605.30,137.71 L605.80,137.65 L606.30,137.69 L606.80,137.56 L607.30,137.70 L607.80,137.67 L608.30,137.78 L608.80,137.55 L609.30,137.56 L609.80,137.71 L610.30,137.77 L610.80,137.65 L611.30,137.72 L611.80,137.68 L612.30,137.64 L612.80,137.66 L613.30,137.69 L613.80,137.55 L614.30,137.62 L614.80,137.72 L615.30,137.60 L615.80,137.65 L616.30,137.59 L616.80,137.61 L617.30,137.67 L617.80,137.68 L618.30,137.72 L618.80,137.58 L619.30,137.48 L619.80,137.47 L620.30,137.33 L620.80,137.25 L621.30,137.10 L621.80,136.31 L622.20,133.80 L622.30,132.82 L622.50,130.78 L622.80,129.22 L623.10,130.88 L623.30,132.84 L623.40,133.95 L623.80,136.30 L624.30,137.04 L624.80,137.30 L625.30,137.33 L625.80,137.57 L626.30,137.62 L626.80,137.55 L627.30,137.66 L627.80,137.57 L628.30,137.57 L628.80,137.58 L629.30,137.58 L629.80,137.68 L630.30,137.70 L630.80,137.72 L631.30,137.58 L631.80,137.74 L632.30,137.67 L632.80,137.65 L633.30,137.68 L633.80,137.66 L634.30,137.61 L634.80,137.66 L635.30,137.72 L635.80,137.74 L636.30,137.79 L636.80,137.61 L637.30,137.78 L637.80,137.76 L638.30,137.74 L638.80,137.80 L639.30,137.60 L639.80,137.76 L640.30,137.79 L640.80,137.60 L641.30,137.71 L641.80,137.80 L642.30,137.64 L642.80,137.78 L643.30,137.79 L643.80,137.68 L644.30,137.61 L644.80,137.62 L645.30,137.77 L645.80,137.67 L646.30,137.65 L646.80,137.68 L647.30,137.80 L647.80,137.63 L648.30,137.58 L648.80,137.80 L649.30,137.65 L649.80,137.67 L650.30,137.81 L650.80,137.64 L651.30,137.59 L651.80,137.79 L652.30,137.63 L652.80,137.63 L653.30,137.80 L653.80,137.63 L654.30,137.79 L654.80,137.65 L655.30,137.65 L655.80,137.63 L656.30,137.70 L656.80,137.71 L657.30,137.67 L657.80,137.69 L658.30,137.64 L658.80,137.77 L659.30,137.80 L659.80,137.75 L660.30,137.77 L660.80,137.59 L661.30,137.63 L661.80,137.62 L662.30,137.61 L662.80,137.80 L663.30,137.78 L663.80,137.78 L664.30,137.70 L664.80,137.59 L665.30,137.66 L665.80,137.57 L666.30,137.77 L666.80,137.61 L667.30,137.61 L667.80,137.76 L668.30,137.57 L668.80,137.72 L669.30,137.55 L669.80,137.59 L670.30,137.37 L670.80,137.36 L671.30,136.28 L671.40,135.88 L671.70,134.57 L671.80,134.17 L672.00,133.74 L672.30,134.44 L672.60,135.94 L672.80,136.51 L673.30,137.42 L673.80,137.45 L674.30,137.48 L674.80,137.56 L675.30,137.53 L675.80,137.60" stroke="#f02828"/>
<path d="M315.30,192.82 L315.80,192.80 L316.30,192.81 L316.80,192.81 L317.30,192.88 L317.80,192.96 L318.30,192.90 L318.80,193.00 L319.30,192.94 L319.80,192.88 L320.30,192.90 L320.80,193.08 L321.30,193.01 L321.80,193.01 L322.30,193.06 L322.80,193.15 L323.30,193.06 L323.80,193.07 L324.30,193.09 L324.80,193.02 L325.30,193.16 L325.80,193.17 L326.30,193.19 L326.80,193.19 L327.30,193.21 L327.80,193.29 L328.30,193.18 L328.80,193.39 L329.30,193.20 L329.80,193.39 L330.30,193.24 L330.80,193.41 L331.30,193.30 L331.80,193.27 L332.30,193.40 L332.80,193.48 L333.30,193.50 L333.80,193.53 L334.30,193.57 L334.80,193.36 L335.30,193.45 L335.80,193.41 L336.30,193.58 L336.80,193.52 L337.30,193.61 L337.80,193.63 L338.30,193.70 L338.80,193.64 L339.30,193.70 L339.80,193.64 L340.30,193.54 L340.80,193.75 L341.30,193.58 L341.80,193.59 L342.30,193.78 L342.80,193.67 L343.30,193.78 L343.80,193.64 L344.30,193.70 L344.80,193.83 L345.30,193.69 L345.80,193.82 L346.30,193.93 L346.80,193.77 L347.30,193.91 L347.80,193.93 L348.30,193.92 L348.80,193.97 L349.30,193.97 L349.80,193.82 L350.30,193.87 L350.80,193.97 L351.30,194.09 L351.80,193.92 L352.30,194.03 L352.80,193.93 L353.30,194.12 L353.80,194.04 L354.30,194.07 L354.80,194.12 L355.30,194.00 L355.80,194.16 L356.30,194.19 L356.80,194.22 L357.30,194.09 L357.80,194.09 L358.30,194.08 L358.80,194.27 L359.30,194.16 L359.80,194.15 L360.30,194.18 L360.80,194.19 L361.30,194.03 L361.80,193.84 L362.10,193.42 L362.30,192.19 L362.40,191.05 L362.70,188.60 L362.80,189.16 L363.00,191.17 L363.30,193.41 L363.80,194.02 L364.30,194.31 L364.80,194.26 L365.30,194.25 L365.80,194.26 L366.30,194.34 L366.80,194.42 L367.30,194.38 L367.80,194.54 L368.30,194.49 L368.80,194.45 L369.30,194.52 L369.80,194.52 L370.30,194.54 L370.80,194.52 L371.30,194.54 L371.80,194.55 L372.30,194.64 L372.80,194.50 L373.30,194.66 L373.80,194.55 L374.30,194.70 L374.80,194.52 L375.30,194.63 L375.80,194.64 L376.30,194.71 L376.80,194.59 L377.30,194.61 L377.80,194.58 L378.30,194.65 L378.80,194.46 L379.10,193.62 L379.30,193.03 L379.40,192.92 L379.70,193.87 L379.80,194.07 L380.00,194.49 L380.30,194.60 L380.80,194.76 L381.30,194.84 L381.80,194.83 L382.30,194.69 L382.80,194.81 L383.30,194.84 L383.80,194.74 L384.30,194.94 L384.80,194.84 L385.30,194.84 L385.80,194.94 L386.30,194.94 L386.80,194.93 L387.30,195.03 L387.80,194.96 L388.30,194.93 L388.80,194.87 L389.30,195.00 L389.80,194.97 L390.30,195.02 L390.80,194.99 L391.30,194.92 L391.80,194.94 L392.30,194.98 L392.80,194.97 L393.30,195.17 L393.80,195.11 L394.30,195.04 L394.80,195.17 L395.30,195.16 L395.80,195.03 L396.30,195.21 L396.80,195.10 L397.30,195.29 L397.80,195.10 L398.30,195.14 L398.80,195.14 L399.30,195.30 L399.80,195.30 L400.30,195.25 L400.80,195.16 L401.30,195.24 L401.80,195.32 L402.30,195.17 L402.80,195.39 L403.30,195.38 L403.80,195.41 L404.30,195.37 L404.80,195.36 L405.30,195.45 L405.80,195.29 L406.30,195.31 L406.80,195.28 L407.30,195.30 L407.80,195.46 L408.30,195.30 L408.80,195.46 L409.30,195.39 L409.80,195.52 L410.30,195.50 L410.80,195.49 L411.30,195.53 L411.80,195.35 L412.30,195.41 L412.80,195.45 L413.30,195.47 L413.80,195.54 L414.30,195.59 L414.80,195.57 L415.30,195.62 L415.80,195.57 L416.30,195.50 L416.80,195.54 L417.30,195.60 L417.80,195.61 L418.30,195.50 L418.80,195.47 L419.30,195.48 L419.80,195.15 L419.90,195.15 L420.20,193.64 L420.30,193.15 L420.50,192.38 L420.80,193.70 L421.10,195.10 L421.30,195.33 L421.80,195.62 L422.30,195.66 L422.80,195.62 L423.30,195.71 L423.80,195.73 L424.30,195.56 L424.80,195.73 L425.30,195.74 L425.80,195.78 L426.30,195.73 L426.80,195.64 L427.30,195.60 L427.80,195.70 L428.30,195.58 L428.80,195.70 L429.30,195.62 L429.80,195.63 L430.30,195.42 L430.80,195.21 L431.30,194.87 L431.80,192.59 L432.10,184.74 L432.30,177.72 L432.40,176.47 L432.70,184.81 L432.80,188.32 L433.00,192.52 L433.30,194.52 L433.80,195.25 L434.30,195.50 L434.80,195.53 L435.30,195.59 L435.80,195.77 L436.30,195.83 L436.80,195.81 L437.30,195.73 L437.80,195.87 L438.30,195.83 L438.80,195.81 L439.30,195.87 L439.80,195.84 L440.30,195.90 L440.80,195.93 L441.30,195.99 L441.80,195.79 L442.30,195.90 L442.80,196.00 L443.30,195.93 L443.80,195.91 L444.30,195.98 L444.80,195.78 L445.30,195.96 L445.80,195.92 L446.30,195.91 L446.80,195.83 L447.30,195.90 L447.80,195.76 L448.30,195.84 L448.80,195.75 L449.30,195.87 L449.80,195.78 L450.30,195.61 L450.80,195.54 L451.30,195.22 L451.80,194.83 L452.30,193.88 L452.80,191.71 L453.10,185.41 L453.30,173.27 L453.40,164.31 L453.70,146.07 L453.80,148.46 L454.00,164.43 L454.30,185.36 L454.80,192.83 L455.30,194.39 L455.80,195.15 L456.30,195.42 L456.80,195.54 L457.30,195.78 L457.80,195.75 L458.30,195.94 L458.80,195.86 L459.30,195.82 L459.80,196.06 L460.30,195.86 L460.80,195.91 L461.30,196.05 L461.80,195.89 L462.30,195.99 L462.80,196.03 L463.30,195.79 L463.60,195.09 L463.80,194.60 L463.90,194.52 L464.20,195.15 L464.30,195.45 L464.50,195.73 L464.80,195.90 L465.30,196.11 L465.80,196.13 L466.30,195.90 L466.80,195.96 L467.30,195.96 L467.80,196.10 L468.30,195.95 L468.80,195.94 L469.30,196.07 L469.80,195.90 L470.30,196.07 L470.80,195.89 L471.30,195.90 L471.80,195.67 L472.30,194.99 L472.60,193.80 L472.80,190.63 L472.90,188.02 L473.20,181.97 L473.30,183.02 L473.50,188.10 L473.80,193.69 L474.30,195.43 L474.80,195.63 L475.30,195.84 L475.80,195.83 L476.30,195.94 L476.80,196.09 L477.30,196.02 L477.80,195.94 L478.30,195.97 L478.80,196.07 L479.30,195.99 L479.80,196.13 L480.30,195.92 L480.80,196.09 L481.30,195.96 L481.80,195.70 L482.10,194.50 L482.30,193.44 L482.40,193.30 L482.70,194.57 L482.80,194.92 L483.00,195.53 L483.30,195.95 L483.80,196.08 L484.30,196.11 L484.80,196.13 L485.30,196.07 L485.80,196.15 L486.30,196.12 L486.80,196.08 L487.30,196.06 L487.80,195.96 L488.30,195.98 L488.80,196.02 L489.30,196.07 L489.80,195.99 L490.30,196.19 L490.80,196.09 L491.30,196.13 L491.80,196.17 L492.30,196.01 L492.80,196.16 L493.30,196.18 L493.80,196.01 L494.30,195.97 L494.80,196.13 L495.30,196.14 L495.80,196.11 L496.30,196.00 L496.80,196.03 L497.30,195.89 L497.80,195.87 L498.30,195.84 L498.80,195.78 L499.30,195.28 L499.80,193.58 L500.10,190.27 L500.30,188.76 L500.40,188.33 L500.70,190.45 L500.80,191.58 L501.00,193.59 L501.30,195.00 L501.80,195.67 L502.30,195.76 L502.80,195.99 L503.30,195.87 L503.80,196.08 L504.30,196.03 L504.80,195.92 L505.30,196.14 L505.80,195.99 L506.30,195.93 L506.80,195.96 L507.30,195.87 L507.80,195.86 L508.20,195.67 L508.30,195.51 L508.50,194.57 L508.80,193.46 L509.10,194.61 L509.30,195.45 L509.40,195.60 L509.80,195.86 L510.30,195.92 L510.80,196.05 L511.30,195.98 L511.80,196.12 L512.30,196.03 L512.80,196.09 L513.30,196.09 L513.80,196.11 L514.30,196.00 L514.80,196.02 L515.30,196.13 L515.80,196.01 L516.30,196.13 L516.80,196.20 L517.30,196.06 L517.80,196.20 L518.30,196.11 L518.80,196.19 L519.30,196.09 L519.80,196.15 L520.30,196.13 L520.80,196.01 L521.30,196.09 L521.80,196.10 L522.30,196.07 L522.80,196.12 L523.30,196.18 L523.80,196.15 L524.30,196.15 L524.80,195.99 L525.30,196.12 L525.80,196.10 L526.30,196.18 L526.80,195.95 L527.30,195.98 L527.80,196.17 L528.30,196.01 L528.80,196.08 L529.30,196.03 L529.80,195.96 L530.30,195.92 L530.80,195.87 L531.30,195.81 L531.80,195.16 L532.10,193.89 L532.30,192.06 L532.40,191.18 L532.70,189.42 L532.80,189.68 L533.00,191.22 L533.30,193.72 L533.80,195.59 L534.30,195.80 L534.80,195.84 L535.30,195.95 L535.80,195.90 L536.30,195.96 L536.80,196.12 L537.30,196.10 L537.80,196.15 L538.30,195.98 L538.80,195.97 L539.30,196.04 L539.80,196.07 L540.30,196.13 L540.80,196.03 L541.30,196.14 L541.80,196.10 L542.30,196.03 L542.80,196.15 L543.30,195.98 L543.80,196.11 L544.30,196.01 L544.80,195.98 L545.30,196.08 L545.80,196.09 L546.30,196.11 L546.80,196.06 L547.30,196.19 L547.80,196.16 L548.30,196.01 L548.80,195.97 L549.30,196.20 L549.80,196.07 L550.30,195.99 L550.80,196.01 L551.30,196.14 L551.80,196.01 L552.30,196.06 L552.80,196.13 L553.30,196.05 L553.80,196.12 L554.30,196.19 L554.80,196.16 L555.30,196.12 L555.80,196.12 L556.30,196.04 L556.80,196.12 L557.30,196.12 L557.80,196.10 L558.30,196.08 L558.80,196.14 L559.30,196.01 L559.80,196.13 L560.30,196.19 L560.80,195.96 L561.30,196.01 L561.80,196.19 L562.30,195.97 L562.80,196.14 L563.30,196.08 L563.80,195.95 L564.30,196.07 L564.80,195.91 L565.30,196.10 L565.80,195.95 L566.30,196.07 L566.80,196.02 L567.30,195.77 L567.80,195.70 L568.30,195.34 L568.80,194.06 L568.90,193.14 L569.20,189.75 L569.30,188.65 L569.50,187.77 L569.80,189.79 L570.10,193.19 L570.30,194.52 L570.80,195.52 L571.30,195.72 L571.80,195.97 L572.30,195.89 L572.80,195.96 L573.30,196.07 L573.80,195.94 L574.30,195.93 L574.80,196.10 L575.30,195.97 L575.80,196.11 L576.30,196.09 L576.80,195.98 L577.30,195.96 L577.80,195.90 L578.30,196.07 L578.80,195.94 L579.30,195.89 L579.80,195.80 L580.30,195.75 L580.80,195.79 L581.30,195.43 L581.80,195.17 L582.30,194.20 L582.70,190.29 L582.80,188.28 L583.00,183.37 L583.30,178.90 L583.60,183.47 L583.80,188.37 L583.90,190.30 L584.30,194.11 L584.80,195.25 L585.30,195.44 L585.80,195.61 L586.30,195.83 L586.80,195.94 L587.30,195.92 L587.80,195.83 L588.30,196.04 L588.80,195.84 L589.30,195.84 L589.80,195.76 L590.10,194.86 L590.30,194.09 L590.40,193.79 L590.70,194.88 L590.80,195.15 L591.00,195.52 L591.30,195.90 L591.80,196.01 L592.30,195.81 L592.80,195.90 L593.30,195.98 L593.80,195.80 L594.30,195.71 L594.80,195.69 L595.30,195.36 L595.80,194.93 L596.30,192.16 L596.40,190.71 L596.70,184.18 L596.80,181.93 L597.00,180.02 L597.30,184.15 L597.60,190.62 L597.80,193.13 L598.30,194.94 L598.80,195.37 L599.30,195.77 L599.80,195.77 L600.30,195.78 L600.80,196.04 L601.30,195.96 L601.80,196.03 L602.30,195.96 L602.80,195.93 L603.30,195.99 L603.80,196.12 L604.30,195.99 L604.80,196.15 L605.30,196.01 L605.80,196.15 L606.30,195.98 L606.80,196.05 L607.30,195.97 L607.80,195.98 L608.30,196.07 L608.80,196.04 L609.30,196.08 L609.80,196.00 L610.30,196.02 L610.80,196.03 L611.30,196.16 L611.80,195.97 L612.30,196.05 L612.80,196.15 L613.30,196.08 L613.80,196.01 L614.30,196.18 L614.80,195.97 L615.30,195.97 L615.80,195.94 L616.30,196.03 L616.80,196.12 L617.30,195.98 L617.80,195.97 L618.30,196.07 L618.80,195.88 L619.30,195.83 L619.80,195.94 L620.30,195.72 L620.80,195.70 L621.30,195.36 L621.80,194.63 L622.20,192.12 L622.30,191.00 L622.50,188.82 L622.80,187.22 L623.10,188.92 L623.30,190.90 L623.40,191.97 L623.80,194.57 L624.30,195.45 L624.80,195.64 L625.30,195.86 L625.80,195.84 L626.30,196.05 L626.80,195.95 L627.30,195.94 L627.80,195.92 L628.30,195.94 L628.80,195.98 L629.30,196.14 L629.80,196.04 L630.30,196.05 L630.80,196.18 L631.30,196.18 L631.80,196.14 L632.30,196.01 L632.80,196.04 L633.30,196.08 L633.80,196.02 L634.30,196.05 L634.80,196.01 L635.30,196.02 L635.80,196.14 L636.30,196.11 L636.80,196.07 L637.30,196.08 L637.80,196.12 L638.30,196.13 L638.80,195.97 L639.30,196.17 L639.80,196.08 L640.30,196.05 L640.80,196.20 L641.30,196.15 L641.80,196.06 L642.30,195.98 L642.80,196.08 L643.30,196.08 L643.80,196.06 L644.30,196.00 L644.80,196.11 L645.30,196.03 L645.80,196.16 L646.30,196.10 L646.80,196.04 L647.30,196.17 L647.80,196.08 L648.30,195.99 L648.80,196.04 L649.30,195.99 L649.80,196.08 L650.30,196.19 L650.80,196.20 L651.30,196.13 L651.80,196.01 L652.30,196.03 L652.80,196.02 L653.30,196.06 L653.80,196.13 L654.30,195.98 L654.80,196.09 L655.30,196.08 L655.80,196.13 L656.30,196.17 L656.80,196.07 L657.30,196.12 L657.80,196.04 L658.30,196.08 L658.80,196.12 L659.30,195.98 L659.80,196.10 L660.30,196.09 L660.80,196.02 L661.30,196.03 L661.80,196.17 L662.30,196.05 L662.80,196.01 L663.30,196.04 L663.80,196.09 L664.30,196.06 L664.80,196.05 L665.30,196.04 L665.80,196.01 L666.30,196.08 L666.80,196.09 L667.30,195.96 L667.80,196.08 L668.30,196.00 L668.80,196.14 L669.30,196.11 L669.80,195.87 L670.30,195.93 L670.80,195.65 L671.30,194.69 L671.40,194.50 L671.70,193.19 L671.80,192.80 L672.00,192.43 L672.30,193.21 L672.60,194.42 L672.80,195.12 L673.30,195.78 L673.80,195.99 L674.30,196.05 L674.80,195.96 L675.30,195.96 L675.80,196.06" stroke="#1c961c"/>
<path d="M315.30,254.40 L315.80,254.40 L316.30,254.40 L316.80,254.40 L317.30,254.40 L317.80,254.40 L318.30,254.40 L318.80,254.40 L319.30,254.40 L319.80,254.40 L320.30,254.40 L320.80,254.40 L321.30,254.40 L321.80,254.40 L322.30,254.40 L322.80,254.40 L323.30,254.40 L323.80,254.40 L324.30,254.40 L324.80,254.40 L325.30,254.40 L325.80,254.40 L326.30,254.40 L326.80,254.40 L327.30,254.40 L327.80,254.40 L328.30,254.40 L328.80,254.40 L329.30,254.40 L329.80,254.40 L330.30,254.40 L330.80,254.40 L331.30,254.40 L331.80,254.40 L332.30,254.40 L332.80,254.40 L333.30,254.40 L333.80,254.40 L334.30,254.40 L334.80,254.40 L335.30,254.40 L335.80,254.40 L336.30,254.40 L336.80,254.40 L337.30,254.40 L337.80,254.40 L338.30,254.40 L338.80,254.40 L339.30,254.40 L339.80,254.40 L340.30,254.40 L340.80,254.40 L341.30,254.40 L341.80,254.40 L342.30,254.40 L342.80,254.40 L343.30,254.40 L343.80,254.40 L344.30,254.40 L344.80,254.40 L345.30,254.40 L345.80,254.40 L346.30,254.40 L346.80,254.40 L347.30,254.40 L347.80,254.40 L348.30,254.40 L348.80,254.40 L349.30,254.40 L349.80,254.40 L350.30,254.40 L350.80,254.40 L351.30,254.39 L351.80,254.39 L352.30,254.39 L352.80,254.39 L353.30,254.39 L353.80,254.39 L354.30,254.39 L354.80,254.39 L355.30,254.39 L355.80,254.39 L356.30,254.39 L356.80,254.38 L357.30,254.38 L357.80,254.38 L358.30,254.37 L358.80,254.37 L359.30,254.35 L359.80,254.34 L360.30,254.31 L360.80,254.25 L361.30,254.12 L361.80,253.41 L362.10,251.90 L362.30,250.95 L362.40,250.80 L362.70,251.90 L362.80,252.48 L363.00,253.40 L363.30,254.00 L363.80,254.22 L364.30,254.29 L364.80,254.33 L365.30,254.35 L365.80,254.36 L366.30,254.37 L366.80,254.37 L367.30,254.38 L367.80,254.38 L368.30,254.38 L368.80,254.38 L369.30,254.39 L369.80,254.39 L370.30,254.39 L370.80,254.39 L371.30,254.39 L371.80,254.39 L372.30,254.39 L372.80,254.39 L373.30,254.38 L373.80,254.38 L374.30,254.38 L374.80,254.38 L375.30,254.37 L375.80,254.37 L376.30,254.36 L376.80,254.34 L377.30,254.30 L377.80,254.23 L378.30,253.89 L378.40,253.68 L378.70,252.59 L378.80,252.19 L379.00,251.80 L379.30,252.59 L379.60,253.68 L379.80,254.02 L380.30,254.25 L380.80,254.31 L381.30,254.34 L381.80,254.36 L382.30,254.37 L382.80,254.38 L383.30,254.38 L383.80,254.38 L384.30,254.39 L384.80,254.39 L385.30,254.39 L385.80,254.39 L386.30,254.39 L386.80,254.39 L387.30,254.39 L387.80,254.39 L388.30,254.39 L388.80,254.39 L389.30,254.39 L389.80,254.39 L390.30,254.39 L390.80,254.39 L391.30,254.39 L391.80,254.39 L392.30,254.39 L392.80,254.39 L393.30,254.39 L393.80,254.39 L394.30,254.39 L394.80,254.39 L395.30,254.39 L395.80,254.39 L396.30,254.39 L396.80,254.39 L397.30,254.39 L397.80,254.39 L398.30,254.39 L398.80,254.39 L399.30,254.39 L399.80,254.39 L400.30,254.39 L400.80,254.39 L401.30,254.39 L401.80,254.39 L402.30,254.39 L402.80,254.39 L403.30,254.39 L403.80,254.39 L404.30,254.39 L404.80,254.39 L405.30,254.39 L405.80,254.39 L406.30,254.39 L406.80,254.39 L407.30,254.39 L407.80,254.39 L408.30,254.39 L408.80,254.39 L409.30,254.39 L409.80,254.39 L410.30,254.39 L410.80,254.39 L411.30,254.39 L411.80,254.39 L412.30,254.39 L412.80,254.39 L413.30,254.38 L413.80,254.38 L414.30,254.38 L414.80,254.38 L415.30,254.38 L415.80,254.37 L416.30,254.37 L416.80,254.36 L417.30,254.35 L417.80,254.34 L418.30,254.31 L418.80,254.26 L419.30,254.08 L419.50,253.80 L419.80,252.92 L420.10,252.28 L420.30,252.60 L420.40,252.92 L420.70,253.80 L420.80,253.96 L421.30,254.24 L421.80,254.30 L422.30,254.32 L422.80,254.34 L423.30,254.34 L423.80,254.35 L424.30,254.35 L424.80,254.34 L425.30,254.34 L425.80,254.33 L426.30,254.33 L426.80,254.32 L427.30,254.30 L427.80,254.28 L428.30,254.25 L428.80,254.21 L429.30,254.14 L429.80,254.02 L430.30,253.81 L430.80,253.35 L431.30,251.28 L431.40,250.03 L431.70,243.43 L431.80,241.00 L432.00,238.58 L432.30,243.43 L432.60,250.03 L432.80,252.10 L433.30,253.48 L433.80,253.86 L434.30,254.05 L434.80,254.15 L435.30,254.21 L435.80,254.25 L436.30,254.28 L436.80,254.29 L437.30,254.31 L437.80,254.32 L438.30,254.32 L438.80,254.33 L439.30,254.33 L439.80,254.33 L440.30,254.33 L440.80,254.33 L441.30,254.33 L441.80,254.33 L442.30,254.33 L442.80,254.32 L443.30,254.32 L443.80,254.32 L444.30,254.31 L444.80,254.30 L445.30,254.29 L445.80,254.28 L446.30,254.27 L446.80,254.25 L447.30,254.22 L447.80,254.20 L448.30,254.16 L448.80,254.11 L449.30,254.04 L449.80,253.95 L450.30,253.81 L450.80,253.60 L451.30,253.24 L451.80,252.59 L452.30,251.25 L452.80,246.46 L453.00,239.26 L453.30,216.32 L453.60,199.49 L453.80,207.89 L453.90,216.32 L454.20,239.26 L454.30,243.60 L454.80,250.80 L455.30,252.40 L455.80,253.14 L456.30,253.54 L456.80,253.77 L457.30,253.92 L457.80,254.02 L458.30,254.09 L458.80,254.14 L459.30,254.18 L459.80,254.21 L460.30,254.23 L460.80,254.24 L461.30,254.24 L461.80,254.23 L462.30,254.19 L462.70,253.97 L462.80,253.84 L463.00,253.47 L463.30,253.11 L463.60,253.48 L463.80,253.85 L463.90,253.98 L464.30,254.21 L464.80,254.27 L465.30,254.29 L465.80,254.30 L466.30,254.30 L466.80,254.31 L467.30,254.30 L467.80,254.30 L468.30,254.29 L468.80,254.28 L469.30,254.25 L469.80,254.22 L470.30,254.17 L470.80,254.09 L471.30,253.94 L471.80,253.63 L472.30,252.74 L472.60,250.32 L472.80,246.56 L472.90,244.18 L473.20,239.68 L473.30,240.28 L473.50,244.18 L473.80,250.33 L474.30,253.26 L474.80,253.79 L475.30,254.02 L475.80,254.13 L476.30,254.20 L476.80,254.25 L477.30,254.28 L477.80,254.30 L478.30,254.31 L478.80,254.32 L479.30,254.32 L479.80,254.32 L480.30,254.32 L480.80,254.29 L481.30,254.24 L481.70,253.98 L481.80,253.82 L482.00,253.40 L482.30,252.97 L482.60,253.40 L482.80,253.83 L482.90,253.98 L483.30,254.25 L483.80,254.31 L484.30,254.34 L484.80,254.35 L485.30,254.36 L485.80,254.37 L486.30,254.37 L486.80,254.37 L487.30,254.37 L487.80,254.38 L488.30,254.38 L488.80,254.38 L489.30,254.38 L489.80,254.38 L490.30,254.38 L490.80,254.38 L491.30,254.38 L491.80,254.38 L492.30,254.38 L492.80,254.38 L493.30,254.38 L493.80,254.38 L494.30,254.38 L494.80,254.37 L495.30,254.37 L495.80,254.37 L496.30,254.36 L496.80,254.35 L497.30,254.34 L497.80,254.32 L498.30,254.28 L498.80,254.20 L499.30,253.90 L499.50,253.45 L499.80,252.03 L500.10,250.99 L500.30,251.51 L500.40,252.03 L500.70,253.45 L500.80,253.72 L501.30,254.17 L501.80,254.27 L502.30,254.31 L502.80,254.33 L503.30,254.35 L503.80,254.36 L504.30,254.36 L504.80,254.36 L505.30,254.36 L505.80,254.36 L506.30,254.35 L506.80,254.33 L507.30,254.30 L507.80,254.19 L508.10,253.89 L508.30,253.43 L508.40,253.14 L508.70,252.59 L508.80,252.66 L509.00,253.14 L509.30,253.89 L509.80,254.25 L510.30,254.32 L510.80,254.35 L511.30,254.36 L511.80,254.37 L512.30,254.38 L512.80,254.38 L513.30,254.38 L513.80,254.38 L514.30,254.39 L514.80,254.39 L515.30,254.39 L515.80,254.39 L516.30,254.39 L516.80,254.39 L517.30,254.39 L517.80,254.39 L518.30,254.39 L518.80,254.39 L519.30,254.39 L519.80,254.39 L520.30,254.39 L520.80,254.39 L521.30,254.39 L521.80,254.39 L522.30,254.39 L522.80,254.39 L523.30,254.39 L523.80,254.39 L524.30,254.39 L524.80,254.39 L525.30,254.39 L525.80,254.39 L526.30,254.38 L526.80,254.38 L527.30,254.38 L527.80,254.38 L528.30,254.37 L528.80,254.37 L529.30,254.36 L529.80,254.34 L530.30,254.32 L530.80,254.27 L531.30,254.17 L531.80,253.73 L531.90,253.46 L532.20,252.04 L532.30,251.52 L532.50,251.00 L532.80,252.04 L533.10,253.46 L533.30,253.90 L533.80,254.20 L534.30,254.28 L534.80,254.32 L535.30,254.35 L535.80,254.36 L536.30,254.37 L536.80,254.37 L537.30,254.38 L537.80,254.38 L538.30,254.38 L538.80,254.39 L539.30,254.39 L539.80,254.39 L540.30,254.39 L540.80,254.39 L541.30,254.39 L541.80,254.39 L542.30,254.39 L542.80,254.39 L543.30,254.39 L543.80,254.39 L544.30,254.39 L544.80,254.39 L545.30,254.39 L545.80,254.39 L546.30,254.39 L546.80,254.39 L547.30,254.39 L547.80,254.39 L548.30,254.39 L548.80,254.39 L549.30,254.39 L549.80,254.39 L550.30,254.39 L550.80,254.39 L551.30,254.39 L551.80,254.39 L552.30,254.39 L552.80,254.39 L553.30,254.39 L553.80,254.39 L554.30,254.39 L554.80,254.39 L555.30,254.39 L555.80,254.39 L556.30,254.39 L556.80,254.39 L557.30,254.39 L557.80,254.39 L558.30,254.39 L558.80,254.39 L559.30,254.39 L559.80,254.39 L560.30,254.38 L560.80,254.38 L561.30,254.38 L561.80,254.38 L562.30,254.38 L562.80,254.37 L563.30,254.37 L563.80,254.37 L564.30,254.36 L564.80,254.35 L565.30,254.34 L565.80,254.32 L566.30,254.30 L566.80,254.25 L567.30,254.17 L567.80,253.99 L568.30,253.17 L568.40,252.68 L568.70,250.09 L568.80,249.14 L569.00,248.19 L569.30,250.09 L569.60,252.68 L569.80,253.49 L570.30,254.03 L570.80,254.18 L571.30,254.26 L571.80,254.30 L572.30,254.32 L572.80,254.33 L573.30,254.34 L573.80,254.35 L574.30,254.35 L574.80,254.35 L575.30,254.35 L575.80,254.35 L576.30,254.35 L576.80,254.35 L577.30,254.34 L577.80,254.34 L578.30,254.32 L578.80,254.31 L579.30,254.29 L579.80,254.26 L580.30,254.21 L580.80,254.13 L581.30,253.97 L581.80,253.64 L582.30,252.15 L582.40,251.24 L582.70,246.48 L582.80,244.73 L583.00,242.99 L583.30,246.48 L583.60,251.24 L583.80,252.74 L584.30,253.73 L584.80,254.01 L585.30,254.14 L585.80,254.21 L586.30,254.26 L586.80,254.28 L587.30,254.29 L587.80,254.30 L588.30,254.29 L588.80,254.27 L589.30,254.14 L589.40,254.06 L589.70,253.65 L589.80,253.49 L590.00,253.34 L590.30,253.65 L590.60,254.06 L590.80,254.19 L591.30,254.27 L591.80,254.29 L592.30,254.29 L592.80,254.28 L593.30,254.26 L593.80,254.22 L594.30,254.16 L594.80,254.04 L595.30,253.81 L595.80,253.11 L596.10,251.24 L596.30,248.33 L596.40,246.48 L596.70,242.99 L596.80,243.46 L597.00,246.48 L597.30,251.25 L597.80,253.52 L598.30,253.93 L598.80,254.11 L599.30,254.20 L599.80,254.26 L600.30,254.29 L600.80,254.31 L601.30,254.33 L601.80,254.34 L602.30,254.35 L602.80,254.36 L603.30,254.36 L603.80,254.37 L604.30,254.37 L604.80,254.37 L605.30,254.38 L605.80,254.38 L606.30,254.38 L606.80,254.38 L607.30,254.38 L607.80,254.38 L608.30,254.38 L608.80,254.38 L609.30,254.39 L609.80,254.39 L610.30,254.39 L610.80,254.39 L611.30,254.39 L611.80,254.39 L612.30,254.39 L612.80,254.39 L613.30,254.39 L613.80,254.39 L614.30,254.38 L614.80,254.38 L615.30,254.38 L615.80,254.38 L616.30,254.38 L616.80,254.38 L617.30,254.37 L617.80,254.37 L618.30,254.36 L618.80,254.35 L619.30,254.33 L619.80,254.30 L620.30,254.24 L620.80,254.12 L621.30,253.57 L621.40,253.24 L621.70,251.48 L621.80,250.84 L622.00,250.20 L622.30,251.48 L622.60,253.24 L622.80,253.79 L623.30,254.16 L623.80,254.26 L624.30,254.31 L624.80,254.34 L625.30,254.35 L625.80,254.36 L626.30,254.37 L626.80,254.38 L627.30,254.38 L627.80,254.38 L628.30,254.38 L628.80,254.39 L629.30,254.39 L629.80,254.39 L630.30,254.39 L630.80,254.39 L631.30,254.39 L631.80,254.39 L632.30,254.39 L632.80,254.39 L633.30,254.39 L633.80,254.39 L634.30,254.39 L634.80,254.39 L635.30,254.39 L635.80,254.40 L636.30,254.40 L636.80,254.40 L637.30,254.40 L637.80,254.40 L638.30,254.40 L638.80,254.40 L639.30,254.40 L639.80,254.40 L640.30,254.40 L640.80,254.40 L641.30,254.40 L641.80,254.40 L642.30,254.40 L642.80,254.40 L643.30,254.40 L643.80,254.40 L644.30,254.40 L644.80,254.40 L645.30,254.40 L645.80,254.40 L646.30,254.40 L646.80,254.40 L647.30,254.40 L647.80,254.40 L648.30,254.40 L648.80,254.40 L649.30,254.40 L649.80,254.40 L650.30,254.40 L650.80,254.40 L651.30,254.40 L651.80,254.40 L652.30,254.40 L652.80,254.40 L653.30,254.40 L653.80,254.40 L654.30,254.40 L654.80,254.40 L655.30,254.40 L655.80,254.40 L656.30,254.40 L656.80,254.40 L657.30,254.40 L657.80,254.40 L658.30,254.40 L658.80,254.40 L659.30,254.40 L659.80,254.40 L660.30,254.40 L660.80,254.40 L661.30,254.40 L661.80,254.40 L662.30,254.40 L662.80,254.40 L663.30,254.40 L663.80,254.40 L664.30,254.39 L664.80,254.39 L665.30,254.39 L665.80,254.39 L666.30,254.39 L666.80,254.39 L667.30,254.39 L667.80,254.38 L668.30,254.38 L668.80,254.37 L669.30,254.35 L669.80,254.32 L670.30,254.22 L670.60,253.96 L670.80,253.55 L670.90,253.29 L671.20,252.80 L671.30,252.86 L671.50,253.29 L671.80,253.96 L672.30,254.28 L672.80,254.33 L673.30,254.36 L673.80,254.37 L674.30,254.38 L674.80,254.38 L675.30,254.39 L675.80,254.39" stroke="#1a1a1a"/>
</g>
<circle cx="363.7" cy="122.1" r="3.6" fill="#ff0000"/><circle cx="379.6" cy="122.1" r="3.6" fill="#ff0000"/><circle cx="420.6" cy="121.2" r="3.6" fill="#ff0000"/><circle cx="432.4" cy="86.8" r="3.6" fill="#ff0000"/><circle cx="462.9" cy="126.7" r="3.6" fill="#ff0000"/><circle cx="473.5" cy="109.4" r="3.6" fill="#ff0000"/><circle cx="482.5" cy="124.3" r="3.6" fill="#ff0000"/><circle cx="500.4" cy="123.4" r="3.6" fill="#ff0000"/><circle cx="509.1" cy="123.4" r="3.6" fill="#ff0000"/><circle cx="532.6" cy="122.3" r="3.6" fill="#ff0000"/><circle cx="569.1" cy="120.3" r="3.6" fill="#ff0000"/><circle cx="583.3" cy="114.3" r="3.6" fill="#ff0000"/><circle cx="597.1" cy="113.9" r="3.6" fill="#ff0000"/><circle cx="622.8" cy="120.7" r="3.6" fill="#ff0000"/><circle cx="672.3" cy="123.1" r="3.6" fill="#ff0000"/>
<circle cx="363.7" cy="181.4" r="3.6" fill="#008c00"/><circle cx="379.8" cy="181.4" r="3.6" fill="#008c00"/><circle cx="420.5" cy="180.5" r="3.6" fill="#008c00"/><circle cx="432.7" cy="168.5" r="3.6" fill="#008c00"/><circle cx="462.6" cy="185.6" r="3.6" fill="#008c00"/><circle cx="473.9" cy="168.3" r="3.6" fill="#008c00"/><circle cx="483.0" cy="183.1" r="3.6" fill="#008c00"/><circle cx="500.7" cy="182.6" r="3.6" fill="#008c00"/><circle cx="509.5" cy="182.6" r="3.6" fill="#008c00"/><circle cx="533.0" cy="181.5" r="3.6" fill="#008c00"/><circle cx="569.4" cy="179.5" r="3.6" fill="#008c00"/><circle cx="583.8" cy="173.3" r="3.6" fill="#008c00"/><circle cx="597.3" cy="172.9" r="3.6" fill="#008c00"/><circle cx="623.0" cy="179.6" r="3.6" fill="#008c00"/><circle cx="672.7" cy="182.1" r="3.6" fill="#008c00"/>
<circle cx="362.7" cy="243.5" r="3.4" fill="#222222"/><circle cx="379.1" cy="243.5" r="3.4" fill="#222222"/><circle cx="420.1" cy="242.5" r="3.4" fill="#222222"/><circle cx="431.7" cy="230.5" r="3.4" fill="#222222"/><circle cx="463.3" cy="245.1" r="3.4" fill="#222222"/><circle cx="473.1" cy="230.5" r="3.4" fill="#222222"/><circle cx="482.2" cy="245.6" r="3.4" fill="#222222"/><circle cx="500.1" cy="244.6" r="3.4" fill="#222222"/><circle cx="508.7" cy="244.6" r="3.4" fill="#222222"/><circle cx="532.5" cy="243.6" r="3.4" fill="#222222"/><circle cx="568.6" cy="241.5" r="3.4" fill="#222222"/><circle cx="583.1" cy="235.8" r="3.4" fill="#222222"/><circle cx="596.7" cy="235.3" r="3.4" fill="#222222"/><circle cx="622.0" cy="242.3" r="3.4" fill="#222222"/><circle cx="671.2" cy="244.1" r="3.4" fill="#222222"/>
<g font-size="10.8" fill="#222" stroke="#222" stroke-width="0.22"><text transform="translate(366.94,68.70) rotate(-90)">(211)</text><text transform="translate(382.54,69.00) rotate(-90)">(220)</text><text transform="translate(420.04,69.40) rotate(-90)">(321)</text><text transform="translate(434.54,61.20) rotate(-90)">(400)</text><text transform="translate(448.44,45.30) rotate(-90)">(420)</text><text transform="translate(466.94,75.70) rotate(-90)">(332)</text><text transform="translate(477.94,54.60) rotate(-90)">(422)</text><text transform="translate(488.84,71.40) rotate(-90)">(431)</text><text transform="translate(504.24,69.20) rotate(-90)">(521)</text><text transform="translate(515.94,69.20) rotate(-90)">(440)</text><text transform="translate(536.24,69.20) rotate(-90)">(532)</text><text transform="translate(572.04,69.90) rotate(-90)">(444)</text><text transform="translate(582.64,59.70) rotate(-90)">(640)</text><text transform="translate(594.94,70.60) rotate(-90)">(552)</text><text transform="translate(606.64,59.70) rotate(-90)">(642)</text><text transform="translate(627.04,69.90) rotate(-90)">(800)</text><text transform="translate(671.64,69.90) rotate(-90)">(840)</text></g>
<g stroke="#333" stroke-width="1.2"><line x1="314.60" y1="264.4" x2="314.60" y2="259.90"/><line x1="326.67" y1="264.4" x2="326.67" y2="262.00"/><line x1="338.75" y1="264.4" x2="338.75" y2="262.00"/><line x1="350.82" y1="264.4" x2="350.82" y2="262.00"/><line x1="362.90" y1="264.4" x2="362.90" y2="262.00"/><line x1="374.97" y1="264.4" x2="374.97" y2="259.90"/><line x1="387.04" y1="264.4" x2="387.04" y2="262.00"/><line x1="399.12" y1="264.4" x2="399.12" y2="262.00"/><line x1="411.19" y1="264.4" x2="411.19" y2="262.00"/><line x1="423.27" y1="264.4" x2="423.27" y2="262.00"/><line x1="435.34" y1="264.4" x2="435.34" y2="259.90"/><line x1="447.41" y1="264.4" x2="447.41" y2="262.00"/><line x1="459.49" y1="264.4" x2="459.49" y2="262.00"/><line x1="471.56" y1="264.4" x2="471.56" y2="262.00"/><line x1="483.64" y1="264.4" x2="483.64" y2="262.00"/><line x1="495.71" y1="264.4" x2="495.71" y2="259.90"/><line x1="507.78" y1="264.4" x2="507.78" y2="262.00"/><line x1="519.86" y1="264.4" x2="519.86" y2="262.00"/><line x1="531.93" y1="264.4" x2="531.93" y2="262.00"/><line x1="544.01" y1="264.4" x2="544.01" y2="262.00"/><line x1="556.08" y1="264.4" x2="556.08" y2="259.90"/><line x1="568.15" y1="264.4" x2="568.15" y2="262.00"/><line x1="580.23" y1="264.4" x2="580.23" y2="262.00"/><line x1="592.30" y1="264.4" x2="592.30" y2="262.00"/><line x1="604.38" y1="264.4" x2="604.38" y2="262.00"/><line x1="616.45" y1="264.4" x2="616.45" y2="259.90"/><line x1="628.52" y1="264.4" x2="628.52" y2="262.00"/><line x1="640.60" y1="264.4" x2="640.60" y2="262.00"/><line x1="652.67" y1="264.4" x2="652.67" y2="262.00"/><line x1="664.75" y1="264.4" x2="664.75" y2="262.00"/><line x1="676.82" y1="264.4" x2="676.82" y2="259.90"/></g>
<path d="M677,16.2 H314.6 V264.4 H677" fill="none" stroke="#333" stroke-width="1.3"/><line x1="677" y1="15.6" x2="677" y2="265" stroke="#8a8a8a" stroke-width="1.8"/>
<g font-size="13.9" fill="#222"><text x="314.60" y="280.9" text-anchor="middle">10</text><text x="374.97" y="280.9" text-anchor="middle">20</text><text x="435.34" y="280.9" text-anchor="middle">30</text><text x="495.71" y="280.9" text-anchor="middle">40</text><text x="556.08" y="280.9" text-anchor="middle">50</text><text x="616.45" y="280.9" text-anchor="middle">60</text><text x="676.82" y="280.9" text-anchor="middle">70</text></g>
<text x="496.6" y="297.6" font-size="12.8" letter-spacing="0.5" fill="#222" text-anchor="middle">2θ (degree)</text>
<text transform="translate(302.3,140.2) rotate(-90)" font-size="12.8" letter-spacing="0.25" fill="#222" text-anchor="middle">Intensity (a.u.)</text>
<g font-size="12.6" fill="#1a1a1a" text-anchor="middle">
<rect x="627.3" y="21.5" width="40.3" height="14.7" fill="#fff" stroke="#2f74e4" stroke-width="1.2"/>
<text x="647.9" y="32.5">Tail</text>
<rect x="627.6" y="86.1" width="39.6" height="14.4" fill="#fff" stroke="#ff1a1a" stroke-width="1.2"/>
<text x="647.8" y="97.7">Middle</text>
<rect x="627.5" y="142.8" width="39.8" height="14.4" fill="#fff" stroke="#1f9a1f" stroke-width="1.2"/>
<text x="646.3" y="155">Seed</text>
<rect x="627.5" y="201.5" width="39.8" height="14.1" fill="#fff" stroke="#1a1a1a" stroke-width="1.2"/>
<text x="648.0" y="213.8">Ia3d</text>
<line x1="646.9" y1="203.1" x2="651.9" y2="203.1" stroke="#1a1a1a" stroke-width="0.9"/>
</g>
</g>

</svg>
</body></html>
